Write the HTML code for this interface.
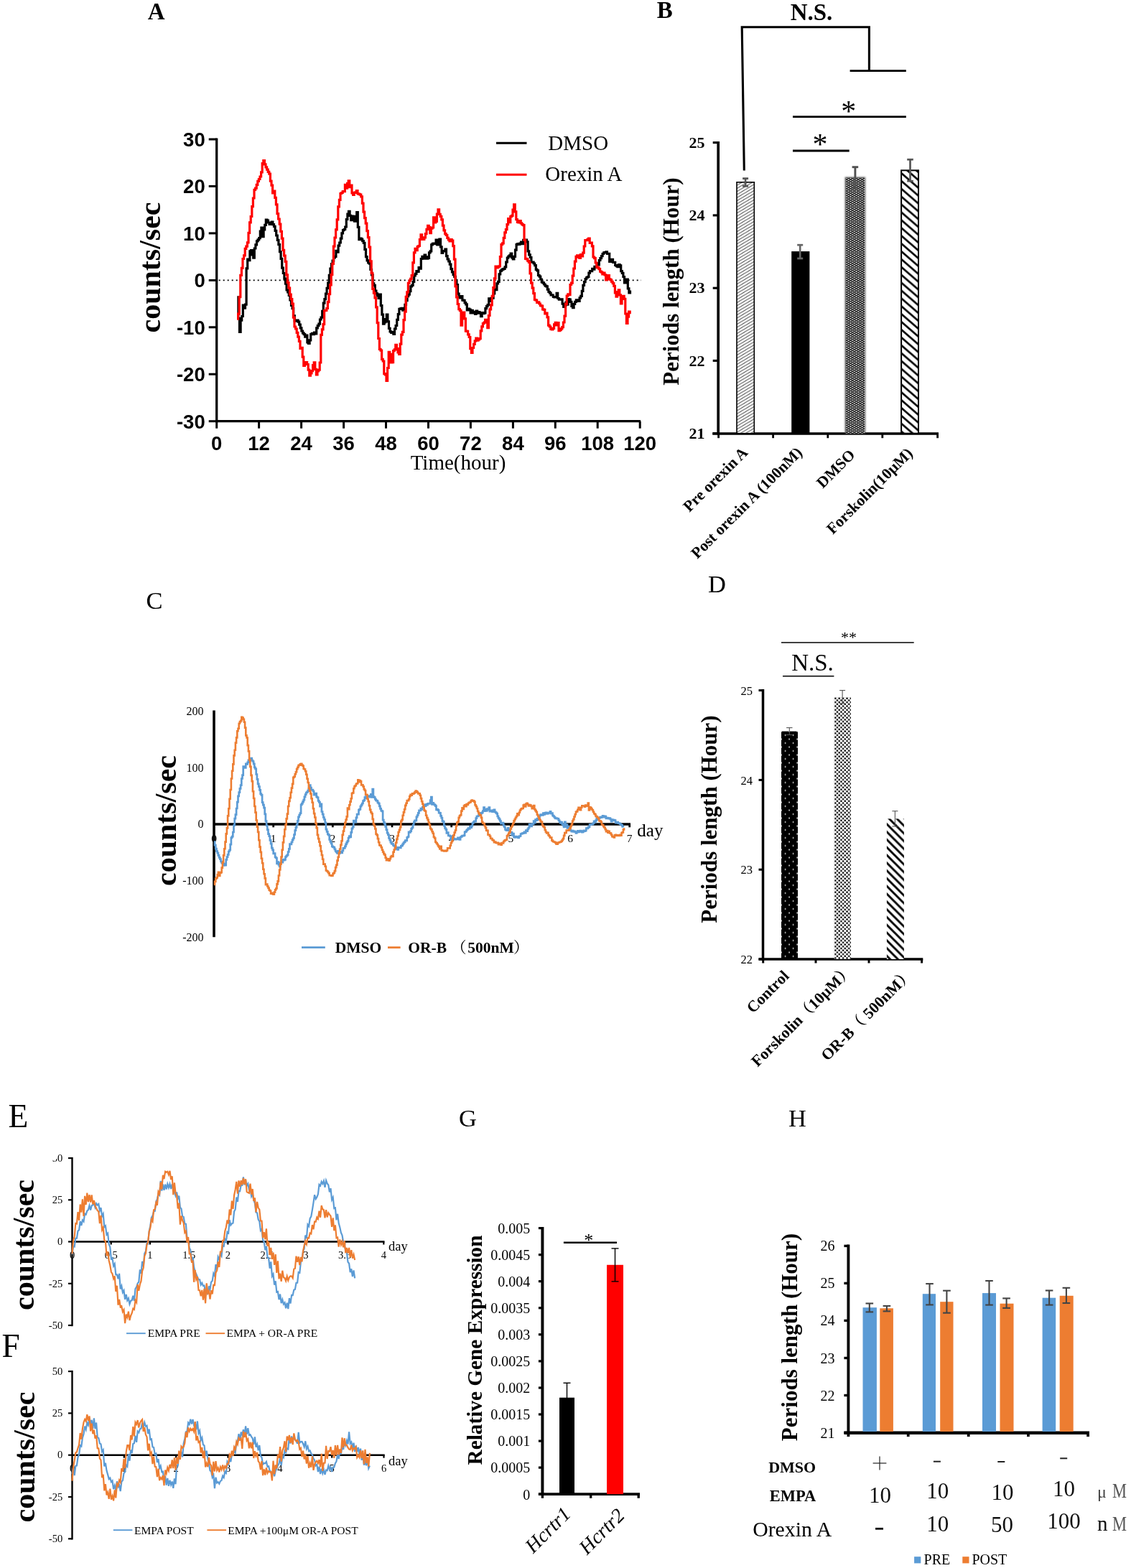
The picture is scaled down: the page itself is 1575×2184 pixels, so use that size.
<!DOCTYPE html>
<html lang="en">
<head>
<meta charset="utf-8">
<title>Figure</title>
<style>
html,body{margin:0;padding:0;background:#fff;}
body{width:1575px;height:2184px;overflow:hidden;}
svg{display:block;}
text{white-space:pre;}
</style>
</head>
<body>
<svg width="1575" height="2184" viewBox="0 0 1575 2184">
<defs>

<pattern id="hatchLight" patternUnits="userSpaceOnUse" width="7.2" height="4.3" x="1026" y="254">
<rect width="7.2" height="4.3" fill="#fff"/>
<path d="M-7.2 8.6 L14.4 -4.3 M-7.2 4.3 L7.2 -4.3 M0 8.6 L14.4 0" stroke="#5a5a5a" stroke-width="1.1"/>
</pattern>
<pattern id="dotsDark" patternUnits="userSpaceOnUse" width="5.4" height="3.2" x="1177.7" y="247.6">
<rect width="5.4" height="3.2" fill="#1c1c1c"/>
<rect x="0.5" y="0.1" width="1.7" height="1.5" fill="#fff"/>
<rect x="3.2" y="1.7" width="1.7" height="1.5" fill="#fff"/>
</pattern>
<pattern id="hatchWide" patternUnits="userSpaceOnUse" width="12.6" height="10.9" x="1255" y="241">
<rect width="12.6" height="10.9" fill="#fff"/>
<path d="M-12.6 -10.9 L25.2 21.8 M-12.6 0 L12.6 21.8 M0 -10.9 L25.2 10.9" stroke="#000" stroke-width="2.7"/>
</pattern>
<pattern id="dotsWhiteOnBlack" patternUnits="userSpaceOnUse" width="11" height="11" x="1088" y="1018.6">
<rect width="11" height="11" fill="#000"/>
<rect x="4.8" y="4.6" width="1.6" height="1.6" fill="#fff"/>
<rect x="-0.7" y="10.1" width="1.6" height="1.6" fill="#fff"/>
<rect x="10.3" y="10.1" width="1.6" height="1.6" fill="#fff"/>
<rect x="-0.7" y="-0.9" width="1.6" height="1.6" fill="#fff"/>
<rect x="10.3" y="-0.9" width="1.6" height="1.6" fill="#fff"/>
</pattern>
<pattern id="dotsBlackOnWhite" patternUnits="userSpaceOnUse" width="5.4" height="5.4" x="1161.8" y="971.2">
<rect width="5.4" height="5.4" fill="#fff"/>
<circle cx="1.5" cy="1.5" r="1.32" fill="#000"/>
<circle cx="4.2" cy="4.2" r="1.32" fill="#000"/>
</pattern>
<pattern id="hatchThick" patternUnits="userSpaceOnUse" width="10.8" height="10.8" x="1234.9" y="1137">
<rect width="10.8" height="10.8" fill="#fff"/>
<path d="M-10.8 -10.8 L21.6 21.6 M-10.8 0 L10.8 21.6 M0 -10.8 L21.6 10.8" stroke="#000" stroke-width="2.9"/>
</pattern>
<filter id="soft" x="-30%" y="-5%" width="160%" height="110%"><feGaussianBlur stdDeviation="1.3"/></filter>

</defs>
<rect x="0" y="0" width="1575" height="2184" fill="#fff"/>
<g id="panel_a">
<text x="205.8" y="26.8" font-family="'Liberation Serif', 'Noto Serif CJK SC', serif" font-size="33" font-weight="bold" font-style="normal" text-anchor="start" fill="#000" >A</text>
<line x1="301.7" y1="192.4" x2="301.7" y2="588.3" stroke="#000" stroke-width="3.3" />
<line x1="300.1" y1="586.7" x2="892.0" y2="586.7" stroke="#000" stroke-width="3.3" />
<line x1="290.7" y1="194.0" x2="301.7" y2="194.0" stroke="#000" stroke-width="3" />
<text x="285.7" y="203.8" font-family="'Liberation Sans', 'Noto Sans CJK SC', sans-serif" font-size="27.5" font-weight="bold" font-style="normal" text-anchor="end" fill="#000" >30</text>
<line x1="290.7" y1="259.4" x2="301.7" y2="259.4" stroke="#000" stroke-width="3" />
<text x="285.7" y="269.2" font-family="'Liberation Sans', 'Noto Sans CJK SC', sans-serif" font-size="27.5" font-weight="bold" font-style="normal" text-anchor="end" fill="#000" >20</text>
<line x1="290.7" y1="324.9" x2="301.7" y2="324.9" stroke="#000" stroke-width="3" />
<text x="285.7" y="334.7" font-family="'Liberation Sans', 'Noto Sans CJK SC', sans-serif" font-size="27.5" font-weight="bold" font-style="normal" text-anchor="end" fill="#000" >10</text>
<line x1="290.7" y1="390.4" x2="301.7" y2="390.4" stroke="#000" stroke-width="3" />
<text x="285.7" y="400.2" font-family="'Liberation Sans', 'Noto Sans CJK SC', sans-serif" font-size="27.5" font-weight="bold" font-style="normal" text-anchor="end" fill="#000" >0</text>
<line x1="290.7" y1="455.8" x2="301.7" y2="455.8" stroke="#000" stroke-width="3" />
<text x="285.7" y="465.6" font-family="'Liberation Sans', 'Noto Sans CJK SC', sans-serif" font-size="27.5" font-weight="bold" font-style="normal" text-anchor="end" fill="#000" >-10</text>
<line x1="290.7" y1="521.2" x2="301.7" y2="521.2" stroke="#000" stroke-width="3" />
<text x="285.7" y="531.0" font-family="'Liberation Sans', 'Noto Sans CJK SC', sans-serif" font-size="27.5" font-weight="bold" font-style="normal" text-anchor="end" fill="#000" >-20</text>
<line x1="290.7" y1="586.7" x2="301.7" y2="586.7" stroke="#000" stroke-width="3" />
<text x="285.7" y="596.5" font-family="'Liberation Sans', 'Noto Sans CJK SC', sans-serif" font-size="27.5" font-weight="bold" font-style="normal" text-anchor="end" fill="#000" >-30</text>
<line x1="301.7" y1="586.7" x2="301.7" y2="596.7" stroke="#000" stroke-width="3" />
<text x="301.7" y="626.7" font-family="'Liberation Sans', 'Noto Sans CJK SC', sans-serif" font-size="27.5" font-weight="bold" font-style="normal" text-anchor="middle" fill="#000" >0</text>
<line x1="360.6" y1="586.7" x2="360.6" y2="596.7" stroke="#000" stroke-width="3" />
<text x="360.6" y="626.7" font-family="'Liberation Sans', 'Noto Sans CJK SC', sans-serif" font-size="27.5" font-weight="bold" font-style="normal" text-anchor="middle" fill="#000" >12</text>
<line x1="419.6" y1="586.7" x2="419.6" y2="596.7" stroke="#000" stroke-width="3" />
<text x="419.6" y="626.7" font-family="'Liberation Sans', 'Noto Sans CJK SC', sans-serif" font-size="27.5" font-weight="bold" font-style="normal" text-anchor="middle" fill="#000" >24</text>
<line x1="478.6" y1="586.7" x2="478.6" y2="596.7" stroke="#000" stroke-width="3" />
<text x="478.6" y="626.7" font-family="'Liberation Sans', 'Noto Sans CJK SC', sans-serif" font-size="27.5" font-weight="bold" font-style="normal" text-anchor="middle" fill="#000" >36</text>
<line x1="537.5" y1="586.7" x2="537.5" y2="596.7" stroke="#000" stroke-width="3" />
<text x="537.5" y="626.7" font-family="'Liberation Sans', 'Noto Sans CJK SC', sans-serif" font-size="27.5" font-weight="bold" font-style="normal" text-anchor="middle" fill="#000" >48</text>
<line x1="596.5" y1="586.7" x2="596.5" y2="596.7" stroke="#000" stroke-width="3" />
<text x="596.5" y="626.7" font-family="'Liberation Sans', 'Noto Sans CJK SC', sans-serif" font-size="27.5" font-weight="bold" font-style="normal" text-anchor="middle" fill="#000" >60</text>
<line x1="655.4" y1="586.7" x2="655.4" y2="596.7" stroke="#000" stroke-width="3" />
<text x="655.4" y="626.7" font-family="'Liberation Sans', 'Noto Sans CJK SC', sans-serif" font-size="27.5" font-weight="bold" font-style="normal" text-anchor="middle" fill="#000" >72</text>
<line x1="714.4" y1="586.7" x2="714.4" y2="596.7" stroke="#000" stroke-width="3" />
<text x="714.4" y="626.7" font-family="'Liberation Sans', 'Noto Sans CJK SC', sans-serif" font-size="27.5" font-weight="bold" font-style="normal" text-anchor="middle" fill="#000" >84</text>
<line x1="773.3" y1="586.7" x2="773.3" y2="596.7" stroke="#000" stroke-width="3" />
<text x="773.3" y="626.7" font-family="'Liberation Sans', 'Noto Sans CJK SC', sans-serif" font-size="27.5" font-weight="bold" font-style="normal" text-anchor="middle" fill="#000" >96</text>
<line x1="832.2" y1="586.7" x2="832.2" y2="596.7" stroke="#000" stroke-width="3" />
<text x="832.2" y="626.7" font-family="'Liberation Sans', 'Noto Sans CJK SC', sans-serif" font-size="27.5" font-weight="bold" font-style="normal" text-anchor="middle" fill="#000" >108</text>
<line x1="891.2" y1="586.7" x2="891.2" y2="596.7" stroke="#000" stroke-width="3" />
<text x="891.2" y="626.7" font-family="'Liberation Sans', 'Noto Sans CJK SC', sans-serif" font-size="27.5" font-weight="bold" font-style="normal" text-anchor="middle" fill="#000" >120</text>
<line x1="304.7" y1="390.3" x2="893.0" y2="390.3" stroke="#000" stroke-width="1.8" stroke-dasharray="2 4"/>
<text x="0.0" y="0.0" font-family="'Liberation Serif', 'Noto Serif CJK SC', serif" font-size="42" font-weight="bold" font-style="normal" text-anchor="middle" fill="#000" transform="translate(223.3 372.5) rotate(-90)" >counts/sec</text>
<text x="638.0" y="654.0" font-family="'Liberation Serif', 'Noto Serif CJK SC', serif" font-size="29" font-weight="normal" font-style="normal" text-anchor="middle" fill="#000" >Time(hour)</text>
<line x1="691.0" y1="199.3" x2="733.5" y2="199.3" stroke="#000" stroke-width="3" />
<line x1="691.0" y1="243.3" x2="733.5" y2="243.3" stroke="#f00" stroke-width="3" />
<text x="763.3" y="209.3" font-family="'Liberation Serif', 'Noto Serif CJK SC', serif" font-size="29" font-weight="normal" font-style="normal" text-anchor="start" fill="#000" >DMSO</text>
<text x="759.3" y="251.7" font-family="'Liberation Serif', 'Noto Serif CJK SC', serif" font-size="29" font-weight="normal" font-style="normal" text-anchor="start" fill="#000" >Orexin A</text>
<path d="M330.3 413.9 331.9 413.9 331.9 443.4 333.5 443.4 333.5 462.5 335.1 462.5 335.1 446.2 336.7 446.2 336.7 440.5 338.3 440.5 338.3 425.1 339.9 425.1 339.9 429.2 341.5 429.2 341.5 424.1 343.1 424.1 343.1 373.8 344.7 373.8 344.7 361 346.3 361 346.3 362.6 347.9 362.6 347.9 349.8 349.5 349.8 349.5 348.7 351.1 348.7 351.1 354.8 352.7 354.8 352.7 359.1 354.3 359.1 354.3 346 355.9 346 355.9 340.8 357.5 340.8 357.5 335.8 359.1 335.8 359.1 333.9 360.7 333.9 360.7 331.6 362.3 331.6 362.3 322.2 363.9 322.2 363.9 317.1 365.5 317.1 365.5 329.7 367.1 329.7 367.1 320 368.7 320 368.7 313.3 370.3 313.3 370.3 306.1 371.9 306.1 371.9 307.2 373.5 307.2 373.5 310 375.1 310 375.1 312.3 376.7 312.3 376.7 312.1 378.3 312.1 378.3 309 379.9 309 379.9 312.6 381.5 312.6 381.5 315.4 383.1 315.4 383.1 321.4 384.7 321.4 384.7 328 386.3 328 386.3 334.4 387.9 334.4 387.9 340.7 389.5 340.7 389.5 350.7 391.1 350.7 391.1 360.3 392.7 360.3 392.7 373.2 394.3 373.2 394.3 380.5 395.9 380.5 395.9 388.1 397.5 388.1 397.5 395.2 399.1 395.2 399.1 403.9 400.7 403.9 400.7 407 402.3 407 402.3 411.3 403.9 411.3 403.9 417.8 405.5 417.8 405.5 425.3 407.1 425.3 407.1 429.6 408.7 429.6 408.7 439.9 410.3 439.9 410.3 447.2 411.9 447.2 411.9 446.8 413.5 446.8 413.5 446.2 415.1 446.2 415.1 448.2 416.7 448.2 416.7 452.1 418.3 452.1 418.3 456.9 419.9 456.9 419.9 461 421.5 461 421.5 463.9 423.1 463.9 423.1 465.6 424.7 465.6 424.7 469.1 426.3 469.1 426.3 467.1 427.9 467.1 427.9 476.9 429.5 476.9 429.5 478.3 431.1 478.3 431.1 473.9 432.7 473.9 432.7 465.7 434.3 465.7 434.3 464.4 435.9 464.4 435.9 465.6 437.5 465.6 437.5 463 439.1 463 439.1 464.9 440.7 464.9 440.7 456.8 442.3 456.8 442.3 453.6 443.9 453.6 443.9 451.1 445.5 451.1 445.5 445 447.1 445 447.1 442.2 448.7 442.2 448.7 433.4 450.3 433.4 450.3 422.2 451.9 422.2 451.9 416.6 453.5 416.6 453.5 409.2 455.1 409.2 455.1 401.3 456.7 401.3 456.7 394 458.3 394 458.3 383.3 459.9 383.3 459.9 374 461.5 374 461.5 367.7 463.1 367.7 463.1 363.2 464.7 363.2 464.7 358.9 466.3 358.9 466.3 357.3 467.9 357.3 467.9 349.4 469.5 349.4 469.5 351.2 471.1 351.2 471.1 342.1 472.7 342.1 472.7 338 474.3 338 474.3 332.1 475.9 332.1 475.9 324.9 477.5 324.9 477.5 320.7 479.1 320.7 479.1 319.5 480.7 319.5 480.7 316 482.3 316 482.3 305.5 483.9 305.5 483.9 298.1 485.5 298.1 485.5 294.3 487.1 294.3 487.1 300.4 488.7 300.4 488.7 306.6 490.3 306.6 490.3 301 491.9 301 491.9 301.4 493.5 301.4 493.5 308.2 495.1 308.2 495.1 305.9 496.7 305.9 496.7 295.5 498.3 295.5 498.3 316.3 499.9 316.3 499.9 333.7 501.5 333.7 501.5 332 503.1 332 503.1 333 504.7 333 504.7 335.6 506.3 335.6 506.3 338.4 507.9 338.4 507.9 347.4 509.5 347.4 509.5 357.7 511.1 357.7 511.1 362.8 512.7 362.8 512.7 365.8 514.3 365.8 514.3 367.1 515.9 367.1 515.9 375.5 517.5 375.5 517.5 382.9 519.1 382.9 519.1 394.8 520.7 394.8 520.7 397.4 522.3 397.4 522.3 405 523.9 405 523.9 408.9 525.5 408.9 525.5 411.8 527.1 411.8 527.1 415.5 528.7 415.5 528.7 410.2 530.3 410.2 530.3 425.7 531.9 425.7 531.9 438.1 533.5 438.1 533.5 451.1 535.1 451.1 535.1 449 536.7 449 536.7 444.6 538.3 444.6 538.3 438.1 539.9 438.1 539.9 447.9 541.5 447.9 541.5 457.4 543.1 457.4 543.1 461.9 544.7 461.9 544.7 463.4 546.3 463.4 546.3 462.6 547.9 462.6 547.9 465.4 549.5 465.4 549.5 458 551.1 458 551.1 453.5 552.7 453.5 552.7 445.3 554.3 445.3 554.3 437.7 555.9 437.7 555.9 430.4 557.5 430.4 557.5 429.9 559.1 429.9 559.1 429.3 560.7 429.3 560.7 432.2 562.3 432.2 562.3 430.9 563.9 430.9 563.9 424.4 565.5 424.4 565.5 418.7 567.1 418.7 567.1 412.7 568.7 412.7 568.7 410.2 570.3 410.2 570.3 405.6 571.9 405.6 571.9 398.9 573.5 398.9 573.5 397.3 575.1 397.3 575.1 392.5 576.7 392.5 576.7 383.9 578.3 383.9 578.3 381.4 579.9 381.4 579.9 377.7 581.5 377.7 581.5 378.3 583.1 378.3 583.1 372.5 584.7 372.5 584.7 374.1 586.3 374.1 586.3 360.5 587.9 360.5 587.9 357.3 589.5 357.3 589.5 360.1 591.1 360.1 591.1 355.1 592.7 355.1 592.7 357.8 594.3 357.8 594.3 360.1 595.9 360.1 595.9 359.3 597.5 359.3 597.5 351.8 599.1 351.8 599.1 349.8 600.7 349.8 600.7 340.9 602.3 340.9 602.3 339.4 603.9 339.4 603.9 339 605.5 339 605.5 339.7 607.1 339.7 607.1 334.2 608.7 334.2 608.7 340.8 610.3 340.8 610.3 334 611.9 334 611.9 333.1 613.5 333.1 613.5 343.9 615.1 343.9 615.1 352.5 616.7 352.5 616.7 349.5 618.3 349.5 618.3 349.9 619.9 349.9 619.9 347.2 621.5 347.2 621.5 356.6 623.1 356.6 623.1 361 624.7 361 624.7 364 626.3 364 626.3 368.1 627.9 368.1 627.9 374.6 629.5 374.6 629.5 378.9 631.1 378.9 631.1 382.7 632.7 382.7 632.7 385.4 634.3 385.4 634.3 390.3 635.9 390.3 635.9 396.6 637.5 396.6 637.5 409.1 639.1 409.1 639.1 414 640.7 414 640.7 415 642.3 415 642.3 412.6 643.9 412.6 643.9 418.1 645.5 418.1 645.5 418.3 647.1 418.3 647.1 421.6 648.7 421.6 648.7 423.9 650.3 423.9 650.3 432 651.9 432 651.9 430 653.5 430 653.5 431 655.1 431 655.1 435.8 656.7 435.8 656.7 432.4 658.3 432.4 658.3 435.9 659.9 435.9 659.9 434.3 661.5 434.3 661.5 437.4 663.1 437.4 663.1 433 664.7 433 664.7 436.2 666.3 436.2 666.3 434.5 667.9 434.5 667.9 436 669.5 436 669.5 440.6 671.1 440.6 671.1 435.7 672.7 435.7 672.7 436.7 674.3 436.7 674.3 435.8 675.9 435.8 675.9 429.7 677.5 429.7 677.5 426.7 679.1 426.7 679.1 424.5 680.7 424.5 680.7 415.8 682.3 415.8 682.3 419.5 683.9 419.5 683.9 415.3 685.5 415.3 685.5 415.2 687.1 415.2 687.1 408.9 688.7 408.9 688.7 402.8 690.3 402.8 690.3 403.7 691.9 403.7 691.9 394.8 693.5 394.8 693.5 392.4 695.1 392.4 695.1 381.8 696.7 381.8 696.7 377.4 698.3 377.4 698.3 375.9 699.9 375.9 699.9 374.8 701.5 374.8 701.5 374.3 703.1 374.3 703.1 371.9 704.7 371.9 704.7 365 706.3 365 706.3 359.2 707.9 359.2 707.9 357.1 709.5 357.1 709.5 355.9 711.1 355.9 711.1 353.2 712.7 353.2 712.7 358.8 714.3 358.8 714.3 361 715.9 361 715.9 357.3 717.5 357.3 717.5 348.1 719.1 348.1 719.1 340.6 720.7 340.6 720.7 339.7 722.3 339.7 722.3 340.3 723.9 340.3 723.9 339 725.5 339 725.5 337 727.1 337 727.1 339.6 728.7 339.6 728.7 334.4 730.3 334.4 730.3 335.7 731.9 335.7 731.9 334.1 733.5 334.1 733.5 336.9 735.1 336.9 735.1 349.9 736.7 349.9 736.7 354.9 738.3 354.9 738.3 358.5 739.9 358.5 739.9 365 741.5 365 741.5 365.1 743.1 365.1 743.1 367 744.7 367 744.7 369.6 746.3 369.6 746.3 375.3 747.9 375.3 747.9 376.8 749.5 376.8 749.5 383.5 751.1 383.5 751.1 385.1 752.7 385.1 752.7 389 754.3 389 754.3 393 755.9 393 755.9 393.9 757.5 393.9 757.5 396 759.1 396 759.1 398.1 760.7 398.1 760.7 398.8 762.3 398.8 762.3 403.2 763.9 403.2 763.9 406.5 765.5 406.5 765.5 408.1 767.1 408.1 767.1 410.9 768.7 410.9 768.7 411 770.3 411 770.3 413.5 771.9 413.5 771.9 414 773.5 414 773.5 413.7 775.1 413.7 775.1 408.4 776.7 408.4 776.7 415.5 778.3 415.5 778.3 417.2 779.9 417.2 779.9 416.9 781.5 416.9 781.5 416.9 783.1 416.9 783.1 423.1 784.7 423.1 784.7 427.5 786.3 427.5 786.3 425.3 787.9 425.3 787.9 421 789.5 421 789.5 424.2 791.1 424.2 791.1 416.6 792.7 416.6 792.7 417.2 794.3 417.2 794.3 420.4 795.9 420.4 795.9 426.3 797.5 426.3 797.5 428.7 799.1 428.7 799.1 423.3 800.7 423.3 800.7 420.4 802.3 420.4 802.3 417.9 803.9 417.9 803.9 418.9 805.5 418.9 805.5 419.4 807.1 419.4 807.1 414.9 808.7 414.9 808.7 412.4 810.3 412.4 810.3 405.3 811.9 405.3 811.9 397.4 813.5 397.4 813.5 392.7 815.1 392.7 815.1 388.5 816.7 388.5 816.7 386.5 818.3 386.5 818.3 385.6 819.9 385.6 819.9 380.2 821.5 380.2 821.5 377.5 823.1 377.5 823.1 377.7 824.7 377.7 824.7 374.4 826.3 374.4 826.3 375.2 827.9 375.2 827.9 371.3 829.5 371.3 829.5 372.4 831.1 372.4 831.1 366.8 832.7 366.8 832.7 368.8 834.3 368.8 834.3 362.5 835.9 362.5 835.9 359.7 837.5 359.7 837.5 356.6 839.1 356.6 839.1 353.5 840.7 353.5 840.7 351.9 842.3 351.9 842.3 351.7 843.9 351.7 843.9 350.9 845.5 350.9 845.5 353.4 847.1 353.4 847.1 353.3 848.7 353.3 848.7 364.5 850.3 364.5 850.3 362 851.9 362 851.9 361.4 853.5 361.4 853.5 365.3 855.1 365.3 855.1 365.4 856.7 365.4 856.7 369.5 858.3 369.5 858.3 370.6 859.9 370.6 859.9 371.6 861.5 371.6 861.5 368.6 863.1 368.6 863.1 369.9 864.7 369.9 864.7 377.6 866.3 377.6 866.3 380.4 867.9 380.4 867.9 385.5 869.5 385.5 869.5 393.9 871.1 393.9 871.1 391 872.7 391 872.7 389.1 874.3 389.1 874.3 401.8 875.9 401.8 875.9 407.9 877.5 407.9 877.5 404.5" fill="none" stroke="#000" stroke-width="3.2" stroke-linejoin="miter" stroke-linecap="butt" />
<path d="M330 444.1 331.6 444.1 331.6 437.2 333.2 437.2 333.2 413.7 334.8 413.7 334.8 383.4 336.4 383.4 336.4 373.3 338 373.3 338 360.5 339.6 360.5 339.6 355.8 341.2 355.8 341.2 346.4 342.8 346.4 342.8 343.2 344.4 343.2 344.4 337.8 346 337.8 346 324.3 347.6 324.3 347.6 309.9 349.2 309.9 349.2 301.5 350.8 301.5 350.8 287.6 352.4 287.6 352.4 276 354 276 354 264.3 355.6 264.3 355.6 262.1 357.2 262.1 357.2 257.3 358.8 257.3 358.8 252.3 360.4 252.3 360.4 249.5 362 249.5 362 246 363.6 246 363.6 239.9 365.2 239.9 365.2 227.7 366.8 227.7 366.8 223.7 368.4 223.7 368.4 228.8 370 228.8 370 232.9 371.6 232.9 371.6 236.2 373.2 236.2 373.2 239.3 374.8 239.3 374.8 242.2 376.4 242.2 376.4 252.1 378 252.1 378 258.2 379.6 258.2 379.6 268.9 381.2 268.9 381.2 266.1 382.8 266.1 382.8 275.3 384.4 275.3 384.4 284.8 386 284.8 386 297.6 387.6 297.6 387.6 305 389.2 305 389.2 312.2 390.8 312.2 390.8 322.3 392.4 322.3 392.4 332.1 394 332.1 394 348.3 395.6 348.3 395.6 356.1 397.2 356.1 397.2 364.4 398.8 364.4 398.8 382.9 400.4 382.9 400.4 393.6 402 393.6 402 401 403.6 401 403.6 410.1 405.2 410.1 405.2 416.6 406.8 416.6 406.8 423.1 408.4 423.1 408.4 442.2 410 442.2 410 455 411.6 455 411.6 458 413.2 458 413.2 463.4 414.8 463.4 414.8 469.2 416.4 469.2 416.4 475.4 418 475.4 418 485.5 419.6 485.5 419.6 484.3 421.2 484.3 421.2 497.1 422.8 497.1 422.8 509.4 424.4 509.4 424.4 507 426 507 426 504.6 427.6 504.6 427.6 507.5 429.2 507.5 429.2 515.1 430.8 515.1 430.8 523.1 432.4 523.1 432.4 520 434 520 434 516.6 435.6 516.6 435.6 508.5 437.2 508.5 437.2 504.8 438.8 504.8 438.8 514.4 440.4 514.4 440.4 521.8 442 521.8 442 517 443.6 517 443.6 515.2 445.2 515.2 445.2 505 446.8 505 446.8 466.4 448.4 466.4 448.4 458.8 450 458.8 450 451.6 451.6 451.6 451.6 432.6 453.2 432.6 453.2 432.4 454.8 432.4 454.8 429.5 456.4 429.5 456.4 420.6 458 420.6 458 409.6 459.6 409.6 459.6 396.8 461.2 396.8 461.2 382.7 462.8 382.7 462.8 367.5 464.4 367.5 464.4 343.2 466 343.2 466 331 467.6 331 467.6 319.9 469.2 319.9 469.2 305.9 470.8 305.9 470.8 287.9 472.4 287.9 472.4 278.3 474 278.3 474 269.5 475.6 269.5 475.6 268.5 477.2 268.5 477.2 266.5 478.8 266.5 478.8 266.6 480.4 266.6 480.4 257.4 482 257.4 482 262.2 483.6 262.2 483.6 255.4 485.2 255.4 485.2 251.9 486.8 251.9 486.8 260.7 488.4 260.7 488.4 258 490 258 490 268.8 491.6 268.8 491.6 271.4 493.2 271.4 493.2 268.3 494.8 268.3 494.8 267.8 496.4 267.8 496.4 265.6 498 265.6 498 269.9 499.6 269.9 499.6 270.3 501.2 270.3 501.2 271.2 502.8 271.2 502.8 273.9 504.4 273.9 504.4 283.1 506 283.1 506 295.2 507.6 295.2 507.6 303.7 509.2 303.7 509.2 311.1 510.8 311.1 510.8 321.6 512.4 321.6 512.4 330.6 514 330.6 514 344.1 515.6 344.1 515.6 363.8 517.2 363.8 517.2 380.4 518.8 380.4 518.8 402.3 520.4 402.3 520.4 408.2 522 408.2 522 414.9 523.6 414.9 523.6 427.8 525.2 427.8 525.2 449.6 526.8 449.6 526.8 471.5 528.4 471.5 528.4 486.3 530 486.3 530 488.2 531.6 488.2 531.6 500.4 533.2 500.4 533.2 503 534.8 503 534.8 520.7 536.4 520.7 536.4 521.9 538 521.9 538 530.3 539.6 530.3 539.6 512.5 541.2 512.5 541.2 490.4 542.8 490.4 542.8 493.4 544.4 493.4 544.4 504.9 546 504.9 546 504.7 547.6 504.7 547.6 488.6 549.2 488.6 549.2 486.8 550.8 486.8 550.8 480.4 552.4 480.4 552.4 485.5 554 485.5 554 490.9 555.6 490.9 555.6 493.4 557.2 493.4 557.2 479.2 558.8 479.2 558.8 466.1 560.4 466.1 560.4 462.4 562 462.4 562 445.7 563.6 445.7 563.6 434.2 565.2 434.2 565.2 413.3 566.8 413.3 566.8 406.8 568.4 406.8 568.4 394.4 570 394.4 570 391 571.6 391 571.6 388.4 573.2 388.4 573.2 383.7 574.8 383.7 574.8 365.9 576.4 365.9 576.4 351.9 578 351.9 578 346.3 579.6 346.3 579.6 348.7 581.2 348.7 581.2 343.6 582.8 343.6 582.8 342.5 584.4 342.5 584.4 333.5 586 333.5 586 326.8 587.6 326.8 587.6 331.1 589.2 331.1 589.2 333.5 590.8 333.5 590.8 330.8 592.4 330.8 592.4 325.7 594 325.7 594 319.3 595.6 319.3 595.6 314.4 597.2 314.4 597.2 316.7 598.8 316.7 598.8 324.7 600.4 324.7 600.4 318.2 602 318.2 602 317 603.6 317 603.6 302.8 605.2 302.8 605.2 310 606.8 310 606.8 308.3 608.4 308.3 608.4 298 610 298 610 291.8 611.6 291.8 611.6 298.3 613.2 298.3 613.2 301.3 614.8 301.3 614.8 305.9 616.4 305.9 616.4 314.2 618 314.2 618 320.9 619.6 320.9 619.6 325.6 621.2 325.6 621.2 327.5 622.8 327.5 622.8 331.3 624.4 331.3 624.4 333.9 626 333.9 626 335.9 627.6 335.9 627.6 333.5 629.2 333.5 629.2 335.1 630.8 335.1 630.8 342.6 632.4 342.6 632.4 361.2 634 361.2 634 398.8 635.6 398.8 635.6 414 637.2 414 637.2 423.5 638.8 423.5 638.8 430.7 640.4 430.7 640.4 432.7 642 432.7 642 453.1 643.6 453.1 643.6 435.9 645.2 435.9 645.2 435 646.8 435 646.8 443.8 648.4 443.8 648.4 461.1 650 461.1 650 461.4 651.6 461.4 651.6 465.8 653.2 465.8 653.2 469.5 654.8 469.5 654.8 485.7 656.4 485.7 656.4 491.4 658 491.4 658 484.5 659.6 484.5 659.6 479.3 661.2 479.3 661.2 474.8 662.8 474.8 662.8 471 664.4 471 664.4 474.2 666 474.2 666 472.9 667.6 472.9 667.6 471.6 669.2 471.6 669.2 460.9 670.8 460.9 670.8 454.8 672.4 454.8 672.4 450.7 674 450.7 674 449.1 675.6 449.1 675.6 445.3 677.2 445.3 677.2 445.7 678.8 445.7 678.8 456.7 680.4 456.7 680.4 439.5 682 439.5 682 430.8 683.6 430.8 683.6 424.8 685.2 424.8 685.2 412.3 686.8 412.3 686.8 400.7 688.4 400.7 688.4 387.8 690 387.8 690 371.1 691.6 371.1 691.6 372.9 693.2 372.9 693.2 371.8 694.8 371.8 694.8 370.9 696.4 370.9 696.4 357.5 698 357.5 698 340.7 699.6 340.7 699.6 338.8 701.2 338.8 701.2 331.3 702.8 331.3 702.8 323.9 704.4 323.9 704.4 319.6 706 319.6 706 312.6 707.6 312.6 707.6 304.5 709.2 304.5 709.2 309.7 710.8 309.7 710.8 301.6 712.4 301.6 712.4 300.4 714 300.4 714 292.1 715.6 292.1 715.6 284.8 717.2 284.8 717.2 294.9 718.8 294.9 718.8 305.7 720.4 305.7 720.4 309.3 722 309.3 722 309.8 723.6 309.8 723.6 307.5 725.2 307.5 725.2 310.8 726.8 310.8 726.8 312.7 728.4 312.7 728.4 313.6 730 313.6 730 334.5 731.6 334.5 731.6 360.4 733.2 360.4 733.2 360.9 734.8 360.9 734.8 363.4 736.4 363.4 736.4 365.3 738 365.3 738 380.8 739.6 380.8 739.6 394.1 741.2 394.1 741.2 401.2 742.8 401.2 742.8 408.6 744.4 408.6 744.4 417.5 746 417.5 746 418.1 747.6 418.1 747.6 421.3 749.2 421.3 749.2 420.8 750.8 420.8 750.8 423 752.4 423 752.4 425.7 754 425.7 754 426.1 755.6 426.1 755.6 430.8 757.2 430.8 757.2 431.3 758.8 431.3 758.8 436.9 760.4 436.9 760.4 436.2 762 436.2 762 441.9 763.6 441.9 763.6 453.2 765.2 453.2 765.2 455 766.8 455 766.8 458.3 768.4 458.3 768.4 458.8 770 458.8 770 457.4 771.6 457.4 771.6 451.8 773.2 451.8 773.2 449.3 774.8 449.3 774.8 452.8 776.4 452.8 776.4 449.5 778 449.5 778 460.6 779.6 460.6 779.6 459.7 781.2 459.7 781.2 457.8 782.8 457.8 782.8 455.6 784.4 455.6 784.4 449 786 449 786 440.2 787.6 440.2 787.6 423.3 789.2 423.3 789.2 412.1 790.8 412.1 790.8 409.8 792.4 409.8 792.4 410.6 794 410.6 794 396.5 795.6 396.5 795.6 394.1 797.2 394.1 797.2 384.2 798.8 384.2 798.8 374 800.4 374 800.4 364.1 802 364.1 802 357.4 803.6 357.4 803.6 355.9 805.2 355.9 805.2 358.2 806.8 358.2 806.8 359.5 808.4 359.5 808.4 354.5 810 354.5 810 357 811.6 357 811.6 352.1 813.2 352.1 813.2 343 814.8 343 814.8 334.7 816.4 334.7 816.4 334.6 818 334.6 818 333.3 819.6 333.3 819.6 332 821.2 332 821.2 338.4 822.8 338.4 822.8 338.1 824.4 338.1 824.4 342.9 826 342.9 826 358 827.6 358 827.6 359.7 829.2 359.7 829.2 366 830.8 366 830.8 371.9 832.4 371.9 832.4 372.9 834 372.9 834 374.7 835.6 374.7 835.6 378.1 837.2 378.1 837.2 379.2 838.8 379.2 838.8 382 840.4 382 840.4 380 842 380 842 382.9 843.6 382.9 843.6 390 845.2 390 845.2 385.9 846.8 385.9 846.8 383.5 848.4 383.5 848.4 388.8 850 388.8 850 389.8 851.6 389.8 851.6 392.3 853.2 392.3 853.2 394.6 854.8 394.6 854.8 398.3 856.4 398.3 856.4 408 858 408 858 413.2 859.6 413.2 859.6 406.5 861.2 406.5 861.2 403.8 862.8 403.8 862.8 410.9 864.4 410.9 864.4 422.8 866 422.8 866 414.7 867.6 414.7 867.6 412.4 869.2 412.4 869.2 416.3 870.8 416.3 870.8 437 872.4 437 872.4 450.4 874 450.4 874 441.2 875.6 441.2 875.6 434.2 877.2 434.2 877.2 437.2" fill="none" stroke="#f00" stroke-width="3.2" stroke-linejoin="miter" stroke-linecap="butt" />
</g>
<g id="panel_b">
<text x="914.7" y="24.9" font-family="'Liberation Serif', 'Noto Serif CJK SC', serif" font-size="33" font-weight="bold" font-style="normal" text-anchor="start" fill="#000" >B</text>
<text x="1130.0" y="28.0" font-family="'Liberation Serif', 'Noto Serif CJK SC', serif" font-size="33" font-weight="bold" font-style="normal" text-anchor="middle" fill="#000" >N.S.</text>
<path d="M1036.3 237.6 L1033.2 37.7 L1210.4 37.7 L1210.4 98.6" fill="none" stroke="#000" stroke-width="3.1" stroke-linejoin="miter"/>
<line x1="1183.6" y1="98.6" x2="1261.8" y2="98.6" stroke="#000" stroke-width="2.8" />
<line x1="1104.0" y1="162.6" x2="1261.8" y2="162.6" stroke="#000" stroke-width="2.8" />
<line x1="1104.0" y1="210.0" x2="1182.7" y2="210.0" stroke="#000" stroke-width="2.8" />
<text x="1181.7" y="169.3" font-family="'Liberation Serif', 'Noto Serif CJK SC', serif" font-size="42" font-weight="normal" font-style="normal" text-anchor="middle" fill="#000" >*</text>
<text x="1142.1" y="214.5" font-family="'Liberation Serif', 'Noto Serif CJK SC', serif" font-size="42" font-weight="normal" font-style="normal" text-anchor="middle" fill="#000" >*</text>
<line x1="1000.2" y1="197.0" x2="1000.2" y2="605.6" stroke="#000" stroke-width="3.7" />
<line x1="992.2" y1="604.0" x2="1307.0" y2="604.0" stroke="#000" stroke-width="3.4" />
<line x1="992.7" y1="603.7" x2="1000.2" y2="603.7" stroke="#000" stroke-width="3.1" />
<text x="981.4" y="610.8" font-family="'Liberation Serif', 'Noto Serif CJK SC', serif" font-size="22" font-weight="bold" font-style="normal" text-anchor="end" fill="#000" >21</text>
<line x1="992.7" y1="502.4" x2="1000.2" y2="502.4" stroke="#000" stroke-width="3.1" />
<text x="981.4" y="509.5" font-family="'Liberation Serif', 'Noto Serif CJK SC', serif" font-size="22" font-weight="bold" font-style="normal" text-anchor="end" fill="#000" >22</text>
<line x1="992.7" y1="401.2" x2="1000.2" y2="401.2" stroke="#000" stroke-width="3.1" />
<text x="981.4" y="408.3" font-family="'Liberation Serif', 'Noto Serif CJK SC', serif" font-size="22" font-weight="bold" font-style="normal" text-anchor="end" fill="#000" >23</text>
<line x1="992.7" y1="299.9" x2="1000.2" y2="299.9" stroke="#000" stroke-width="3.1" />
<text x="981.4" y="307.0" font-family="'Liberation Serif', 'Noto Serif CJK SC', serif" font-size="22" font-weight="bold" font-style="normal" text-anchor="end" fill="#000" >24</text>
<line x1="992.7" y1="198.6" x2="1000.2" y2="198.6" stroke="#000" stroke-width="3.1" />
<text x="981.4" y="205.7" font-family="'Liberation Serif', 'Noto Serif CJK SC', serif" font-size="22" font-weight="bold" font-style="normal" text-anchor="end" fill="#000" >25</text>
<line x1="1000.6" y1="603.7" x2="1000.6" y2="610.2" stroke="#000" stroke-width="2.8" />
<line x1="1076.6" y1="603.7" x2="1076.6" y2="610.2" stroke="#000" stroke-width="2.8" />
<line x1="1152.8" y1="603.7" x2="1152.8" y2="610.2" stroke="#000" stroke-width="2.8" />
<line x1="1228.8" y1="603.7" x2="1228.8" y2="610.2" stroke="#000" stroke-width="2.8" />
<line x1="1305.6" y1="603.7" x2="1305.6" y2="610.2" stroke="#000" stroke-width="2.8" />
<text x="0.0" y="0.0" font-family="'Liberation Serif', 'Noto Serif CJK SC', serif" font-size="31" font-weight="bold" font-style="normal" text-anchor="middle" fill="#000" transform="translate(945.0 392.0) rotate(-90)" >Periods length (Hour)</text>
<rect x="1026.0" y="253.8" width="24.3" height="349.9" fill="url(#hatchLight)" stroke="#000" stroke-width="1.6" />
<rect x="1102.2" y="350.1" width="25.2" height="253.6" fill="#000" stroke="none" stroke-width="0" />
<rect x="1176.6" y="246.6" width="28.6" height="357.1" fill="#666" stroke="none" stroke-width="0" filter="url(#soft)"/>
<rect x="1177.7" y="247.3" width="26.3" height="356.4" fill="url(#dotsDark)" stroke="none" stroke-width="0" />
<rect x="1255.1" y="237.3" width="23.9" height="366.4" fill="url(#hatchWide)" stroke="#000" stroke-width="2" />
<line x1="1038.1" y1="248.6" x2="1038.1" y2="259.3" stroke="#555" stroke-width="2.7" /><line x1="1034.1" y1="248.6" x2="1042.1" y2="248.6" stroke="#555" stroke-width="2.7" /><line x1="1034.1" y1="259.3" x2="1042.1" y2="259.3" stroke="#555" stroke-width="2.7" />
<line x1="1114.2" y1="341.2" x2="1114.2" y2="360.0" stroke="#666" stroke-width="2.7" /><line x1="1110.2" y1="341.2" x2="1118.2" y2="341.2" stroke="#666" stroke-width="2.7" /><line x1="1110.2" y1="360.0" x2="1118.2" y2="360.0" stroke="#666" stroke-width="2.7" />
<line x1="1190.9" y1="232.7" x2="1190.9" y2="261.5" stroke="#505050" stroke-width="2.9" /><line x1="1186.6" y1="232.7" x2="1195.2" y2="232.7" stroke="#505050" stroke-width="2.9" /><line x1="1186.6" y1="261.5" x2="1195.2" y2="261.5" stroke="#505050" stroke-width="2.9" />
<line x1="1267.5" y1="222.2" x2="1267.5" y2="252.2" stroke="#555" stroke-width="2.7" /><line x1="1263.2" y1="222.2" x2="1271.8" y2="222.2" stroke="#555" stroke-width="2.7" /><line x1="1263.2" y1="252.2" x2="1271.8" y2="252.2" stroke="#555" stroke-width="2.7" />
<text x="0.0" y="0.0" font-family="'Liberation Serif', 'Noto Serif CJK SC', serif" font-size="21.8" font-weight="bold" font-style="normal" text-anchor="end" fill="#000" transform="translate(1042.6 631.5) rotate(-45)" >Pre orexin A</text>
<text x="0.0" y="0.0" font-family="'Liberation Serif', 'Noto Serif CJK SC', serif" font-size="21.8" font-weight="bold" font-style="normal" text-anchor="end" fill="#000" transform="translate(1118.4 631.5) rotate(-45)" >Post orexin A (100nM)</text>
<text x="0.0" y="0.0" font-family="'Liberation Serif', 'Noto Serif CJK SC', serif" font-size="21.8" font-weight="bold" font-style="normal" text-anchor="end" fill="#000" transform="translate(1192.0 634.7) rotate(-45)" >DMSO</text>
<text x="0.0" y="0.0" font-family="'Liberation Serif', 'Noto Serif CJK SC', serif" font-size="21.8" font-weight="bold" font-style="normal" text-anchor="end" fill="#000" transform="translate(1272.2 632.7) rotate(-45)" >Forskolin(10μM)</text>
</g>
<g id="panel_c">
<text x="203.4" y="847.7" font-family="'Liberation Serif', 'Noto Serif CJK SC', serif" font-size="34.5" font-weight="normal" font-style="normal" text-anchor="start" fill="#000" >C</text>
<line x1="298.0" y1="989.5" x2="298.0" y2="1305.3" stroke="#000" stroke-width="3.6" />
<line x1="298.0" y1="1148.0" x2="878.0" y2="1148.0" stroke="#000" stroke-width="3.6" />
<line x1="380.7" y1="1148.0" x2="380.7" y2="1152.3" stroke="#000" stroke-width="2.8" />
<line x1="463.3" y1="1148.0" x2="463.3" y2="1152.3" stroke="#000" stroke-width="2.8" />
<line x1="546.0" y1="1148.0" x2="546.0" y2="1152.3" stroke="#000" stroke-width="2.8" />
<line x1="628.7" y1="1148.0" x2="628.7" y2="1152.3" stroke="#000" stroke-width="2.8" />
<line x1="711.4" y1="1148.0" x2="711.4" y2="1152.3" stroke="#000" stroke-width="2.8" />
<line x1="794.0" y1="1148.0" x2="794.0" y2="1152.3" stroke="#000" stroke-width="2.8" />
<line x1="876.7" y1="1148.0" x2="876.7" y2="1152.3" stroke="#000" stroke-width="2.8" />
<text x="283.5" y="996.2" font-family="'Liberation Serif', 'Noto Serif CJK SC', serif" font-size="16" font-weight="normal" font-style="normal" text-anchor="end" fill="#000" >200</text>
<text x="283.5" y="1074.8" font-family="'Liberation Serif', 'Noto Serif CJK SC', serif" font-size="16" font-weight="normal" font-style="normal" text-anchor="end" fill="#000" >100</text>
<text x="283.5" y="1153.4" font-family="'Liberation Serif', 'Noto Serif CJK SC', serif" font-size="16" font-weight="normal" font-style="normal" text-anchor="end" fill="#000" >0</text>
<text x="283.5" y="1232.0" font-family="'Liberation Serif', 'Noto Serif CJK SC', serif" font-size="16" font-weight="normal" font-style="normal" text-anchor="end" fill="#000" >-100</text>
<text x="283.5" y="1310.6" font-family="'Liberation Serif', 'Noto Serif CJK SC', serif" font-size="16" font-weight="normal" font-style="normal" text-anchor="end" fill="#000" >-200</text>
<text x="298.0" y="1172.5" font-family="'Liberation Serif', 'Noto Serif CJK SC', serif" font-size="15.5" font-weight="normal" font-style="normal" text-anchor="middle" fill="#000" >0</text>
<text x="380.7" y="1172.5" font-family="'Liberation Serif', 'Noto Serif CJK SC', serif" font-size="15.5" font-weight="normal" font-style="normal" text-anchor="middle" fill="#000" >1</text>
<text x="463.3" y="1172.5" font-family="'Liberation Serif', 'Noto Serif CJK SC', serif" font-size="15.5" font-weight="normal" font-style="normal" text-anchor="middle" fill="#000" >2</text>
<text x="546.0" y="1172.5" font-family="'Liberation Serif', 'Noto Serif CJK SC', serif" font-size="15.5" font-weight="normal" font-style="normal" text-anchor="middle" fill="#000" >3</text>
<text x="628.7" y="1172.5" font-family="'Liberation Serif', 'Noto Serif CJK SC', serif" font-size="15.5" font-weight="normal" font-style="normal" text-anchor="middle" fill="#000" >4</text>
<text x="711.4" y="1172.5" font-family="'Liberation Serif', 'Noto Serif CJK SC', serif" font-size="15.5" font-weight="normal" font-style="normal" text-anchor="middle" fill="#000" >5</text>
<text x="794.0" y="1172.5" font-family="'Liberation Serif', 'Noto Serif CJK SC', serif" font-size="15.5" font-weight="normal" font-style="normal" text-anchor="middle" fill="#000" >6</text>
<text x="876.7" y="1172.5" font-family="'Liberation Serif', 'Noto Serif CJK SC', serif" font-size="15.5" font-weight="normal" font-style="normal" text-anchor="middle" fill="#000" >7</text>
<path d="M297.9 1172.6 299.1 1172.6 299.1 1177.1 300.3 1177.1 300.3 1182.2 301.5 1182.2 301.5 1185.7 302.7 1185.7 302.7 1188.1 303.9 1188.1 303.9 1191.3 305.1 1191.3 305.1 1194.4 306.3 1194.4 306.3 1196.6 307.5 1196.6 307.5 1200 308.7 1200 308.7 1201.8 309.9 1201.8 309.9 1202.7 311.1 1202.7 311.1 1205.5 312.3 1205.5 312.3 1203.1 313.5 1203.1 313.5 1205.2 314.7 1205.2 314.7 1197.4 315.9 1197.4 315.9 1193.7 317.1 1193.7 317.1 1190.3 318.3 1190.3 318.3 1186 319.5 1186 319.5 1184 320.7 1184 320.7 1176.1 321.9 1176.1 321.9 1166.8 323.1 1166.8 323.1 1165.1 324.3 1165.1 324.3 1159 325.5 1159 325.5 1149.6 326.7 1149.6 326.7 1140.2 327.9 1140.2 327.9 1134.6 329.1 1134.6 329.1 1126 330.3 1126 330.3 1117.2 331.5 1117.2 331.5 1108.8 332.7 1108.8 332.7 1103.7 333.9 1103.7 333.9 1098.4 335.1 1098.4 335.1 1093.6 336.3 1093.6 336.3 1084.5 337.5 1084.5 337.5 1079.6 338.7 1079.6 338.7 1067.7 339.9 1067.7 339.9 1068.8 341.1 1068.8 341.1 1069.3 342.3 1069.3 342.3 1063.9 343.5 1063.9 343.5 1064.4 344.7 1064.4 344.7 1061.9 345.9 1061.9 345.9 1058.9 347.1 1058.9 347.1 1060 348.3 1060 348.3 1057.3 349.5 1057.3 349.5 1056.2 350.7 1056.2 350.7 1059 351.9 1059 351.9 1060.5 353.1 1060.5 353.1 1063.9 354.3 1063.9 354.3 1068.9 355.5 1068.9 355.5 1070.8 356.7 1070.8 356.7 1078.5 357.9 1078.5 357.9 1085.4 359.1 1085.4 359.1 1091.8 360.3 1091.8 360.3 1095.6 361.5 1095.6 361.5 1100.4 362.7 1100.4 362.7 1105.6 363.9 1105.6 363.9 1107.3 365.1 1107.3 365.1 1117.7 366.3 1117.7 366.3 1121.2 367.5 1121.2 367.5 1125.2 368.7 1125.2 368.7 1133.9 369.9 1133.9 369.9 1143.6 371.1 1143.6 371.1 1150 372.3 1150 372.3 1155.7 373.5 1155.7 373.5 1161.7 374.7 1161.7 374.7 1164.6 375.9 1164.6 375.9 1170.3 377.1 1170.3 377.1 1175.1 378.3 1175.1 378.3 1181.2 379.5 1181.2 379.5 1183.9 380.7 1183.9 380.7 1188.8 381.9 1188.8 381.9 1188.7 383.1 1188.7 383.1 1193.8 384.3 1193.8 384.3 1195 385.5 1195 385.5 1202.8 386.7 1202.8 386.7 1200.5 387.9 1200.5 387.9 1204.5 389.1 1204.5 389.1 1206.8 390.3 1206.8 390.3 1202.2 391.5 1202.2 391.5 1199.6 392.7 1199.6 392.7 1201.1 393.9 1201.1 393.9 1197.2 395.1 1197.2 395.1 1198.2 396.3 1198.2 396.3 1197.5 397.5 1197.5 397.5 1193.5 398.7 1193.5 398.7 1192.2 399.9 1192.2 399.9 1190.9 401.1 1190.9 401.1 1186.5 402.3 1186.5 402.3 1182.3 403.5 1182.3 403.5 1175.6 404.7 1175.6 404.7 1175.8 405.9 1175.8 405.9 1173 407.1 1173 407.1 1169.9 408.3 1169.9 408.3 1167.5 409.5 1167.5 409.5 1162.5 410.7 1162.5 410.7 1156.7 411.9 1156.7 411.9 1152.4 413.1 1152.4 413.1 1148.5 414.3 1148.5 414.3 1143.4 415.5 1143.4 415.5 1137.8 416.7 1137.8 416.7 1135 417.9 1135 417.9 1132.6 419.1 1132.6 419.1 1120.8 420.3 1120.8 420.3 1119.2 421.5 1119.2 421.5 1116.7 422.7 1116.7 422.7 1114.2 423.9 1114.2 423.9 1109.9 425.1 1109.9 425.1 1106.6 426.3 1106.6 426.3 1104 427.5 1104 427.5 1103.1 428.7 1103.1 428.7 1101 429.9 1101 429.9 1098.9 431.1 1098.9 431.1 1093.6 432.3 1093.6 432.3 1097.2 433.5 1097.2 433.5 1100.1 434.7 1100.1 434.7 1100.1 435.9 1100.1 435.9 1102 437.1 1102 437.1 1107.1 438.3 1107.1 438.3 1105.5 439.5 1105.5 439.5 1105.2 440.7 1105.2 440.7 1109.9 441.9 1109.9 441.9 1110.9 443.1 1110.9 443.1 1115.3 444.3 1115.3 444.3 1117.4 445.5 1117.4 445.5 1123.2 446.7 1123.2 446.7 1119.8 447.9 1119.8 447.9 1130.5 449.1 1130.5 449.1 1134.1 450.3 1134.1 450.3 1138.5 451.5 1138.5 451.5 1141.5 452.7 1141.5 452.7 1145.9 453.9 1145.9 453.9 1155.1 455.1 1155.1 455.1 1158.4 456.3 1158.4 456.3 1161.8 457.5 1161.8 457.5 1163.2 458.7 1163.2 458.7 1169.5 459.9 1169.5 459.9 1172.4 461.1 1172.4 461.1 1175 462.3 1175 462.3 1178.8 463.5 1178.8 463.5 1179.7 464.7 1179.7 464.7 1180.4 465.9 1180.4 465.9 1182.8 467.1 1182.8 467.1 1185.5 468.3 1185.5 468.3 1186.9 469.5 1186.9 469.5 1188.5 470.7 1188.5 470.7 1185.4 471.9 1185.4 471.9 1188.8 473.1 1188.8 473.1 1187.8 474.3 1187.8 474.3 1186.3 475.5 1186.3 475.5 1188 476.7 1188 476.7 1184.8 477.9 1184.8 477.9 1181.3 479.1 1181.3 479.1 1181.4 480.3 1181.4 480.3 1178.8 481.5 1178.8 481.5 1175.8 482.7 1175.8 482.7 1173.3 483.9 1173.3 483.9 1171.4 485.1 1171.4 485.1 1167 486.3 1167 486.3 1164.6 487.5 1164.6 487.5 1165.8 488.7 1165.8 488.7 1159.3 489.9 1159.3 489.9 1154.1 491.1 1154.1 491.1 1151.9 492.3 1151.9 492.3 1143 493.5 1143 493.5 1144 494.7 1144 494.7 1145.2 495.9 1145.2 495.9 1138.9 497.1 1138.9 497.1 1134.2 498.3 1134.2 498.3 1134.2 499.5 1134.2 499.5 1128.2 500.7 1128.2 500.7 1127.1 501.9 1127.1 501.9 1123.1 503.1 1123.1 503.1 1121.2 504.3 1121.2 504.3 1119 505.5 1119 505.5 1115.6 506.7 1115.6 506.7 1114.5 507.9 1114.5 507.9 1110.5 509.1 1110.5 509.1 1109.6 510.3 1109.6 510.3 1111.6 511.5 1111.6 511.5 1109.7 512.7 1109.7 512.7 1108.5 513.9 1108.5 513.9 1109.3 515.1 1109.3 515.1 1110.1 516.3 1110.1 516.3 1106.4 517.5 1106.4 517.5 1110.5 518.7 1110.5 518.7 1099.2 519.9 1099.2 519.9 1109.5 521.1 1109.5 521.1 1110.6 522.3 1110.6 522.3 1113.2 523.5 1113.2 523.5 1114.8 524.7 1114.8 524.7 1115.4 525.9 1115.4 525.9 1117.8 527.1 1117.8 527.1 1119.1 528.3 1119.1 528.3 1122.9 529.5 1122.9 529.5 1126.3 530.7 1126.3 530.7 1129.2 531.9 1129.2 531.9 1129.9 533.1 1129.9 533.1 1142.2 534.3 1142.2 534.3 1145.3 535.5 1145.3 535.5 1147.9 536.7 1147.9 536.7 1151.4 537.9 1151.4 537.9 1155.6 539.1 1155.6 539.1 1160.2 540.3 1160.2 540.3 1162.7 541.5 1162.7 541.5 1167.5 542.7 1167.5 542.7 1170.2 543.9 1170.2 543.9 1173.2 545.1 1173.2 545.1 1175.1 546.3 1175.1 546.3 1175.3 547.5 1175.3 547.5 1177.5 548.7 1177.5 548.7 1178.2 549.9 1178.2 549.9 1178.8 551.1 1178.8 551.1 1182.4 552.3 1182.4 552.3 1180.6 553.5 1180.6 553.5 1183.3 554.7 1183.3 554.7 1180.3 555.9 1180.3 555.9 1180.5 557.1 1180.5 557.1 1180.8 558.3 1180.8 558.3 1178.4 559.5 1178.4 559.5 1177.6 560.7 1177.6 560.7 1175.7 561.9 1175.7 561.9 1173.9 563.1 1173.9 563.1 1172.6 564.3 1172.6 564.3 1170.5 565.5 1170.5 565.5 1170.9 566.7 1170.9 566.7 1166.5 567.9 1166.5 567.9 1165.5 569.1 1165.5 569.1 1158.9 570.3 1158.9 570.3 1159.5 571.5 1159.5 571.5 1157.7 572.7 1157.7 572.7 1154.3 573.9 1154.3 573.9 1152.7 575.1 1152.7 575.1 1149 576.3 1149 576.3 1144.8 577.5 1144.8 577.5 1142.9 578.7 1142.9 578.7 1143.1 579.9 1143.1 579.9 1137.9 581.1 1137.9 581.1 1135.5 582.3 1135.5 582.3 1132.3 583.5 1132.3 583.5 1128.8 584.7 1128.8 584.7 1128.9 585.9 1128.9 585.9 1126.2 587.1 1126.2 587.1 1127.5 588.3 1127.5 588.3 1124.4 589.5 1124.4 589.5 1122.8 590.7 1122.8 590.7 1121.2 591.9 1121.2 591.9 1122.6 593.1 1122.6 593.1 1120.4 594.3 1120.4 594.3 1121.2 595.5 1121.2 595.5 1119.3 596.7 1119.3 596.7 1119.3 597.9 1119.3 597.9 1119.2 599.1 1119.2 599.1 1114.7 600.3 1114.7 600.3 1110.2 601.5 1110.2 601.5 1120.4 602.7 1120.4 602.7 1118.3 603.9 1118.3 603.9 1120.4 605.1 1120.4 605.1 1121.2 606.3 1121.2 606.3 1122.7 607.5 1122.7 607.5 1128 608.7 1128 608.7 1127.4 609.9 1127.4 609.9 1128.6 611.1 1128.6 611.1 1132.1 612.3 1132.1 612.3 1132.4 613.5 1132.4 613.5 1136.4 614.7 1136.4 614.7 1139.1 615.9 1139.1 615.9 1143.7 617.1 1143.7 617.1 1144.3 618.3 1144.3 618.3 1150.2 619.5 1150.2 619.5 1153.5 620.7 1153.5 620.7 1155.3 621.9 1155.3 621.9 1160.3 623.1 1160.3 623.1 1159.6 624.3 1159.6 624.3 1163.9 625.5 1163.9 625.5 1163.8 626.7 1163.8 626.7 1164.8 627.9 1164.8 627.9 1169.8 629.1 1169.8 629.1 1166.7 630.3 1166.7 630.3 1164.9 631.5 1164.9 631.5 1168.2 632.7 1168.2 632.7 1168.6 633.9 1168.6 633.9 1169.2 635.1 1169.2 635.1 1168.5 636.3 1168.5 636.3 1168.8 637.5 1168.8 637.5 1166.8 638.7 1166.8 638.7 1167.8 639.9 1167.8 639.9 1169.5 641.1 1169.5 641.1 1166 642.3 1166 642.3 1165.1 643.5 1165.1 643.5 1164.2 644.7 1164.2 644.7 1164.1 645.9 1164.1 645.9 1163.6 647.1 1163.6 647.1 1158.9 648.3 1158.9 648.3 1158.4 649.5 1158.4 649.5 1156.7 650.7 1156.7 650.7 1155.4 651.9 1155.4 651.9 1153.7 653.1 1153.7 653.1 1154.5 654.3 1154.5 654.3 1151.3 655.5 1151.3 655.5 1152.6 656.7 1152.6 656.7 1150.3 657.9 1150.3 657.9 1146.6 659.1 1146.6 659.1 1145 660.3 1145 660.3 1143.9 661.5 1143.9 661.5 1144.2 662.7 1144.2 662.7 1139.7 663.9 1139.7 663.9 1137 665.1 1137 665.1 1136.9 666.3 1136.9 666.3 1135.7 667.5 1135.7 667.5 1132.3 668.7 1132.3 668.7 1135.1 669.9 1135.1 669.9 1132.6 671.1 1132.6 671.1 1131.9 672.3 1131.9 672.3 1129.5 673.5 1129.5 673.5 1124.7 674.7 1124.7 674.7 1129.6 675.9 1129.6 675.9 1127 677.1 1127 677.1 1129.5 678.3 1129.5 678.3 1126.6 679.5 1126.6 679.5 1128 680.7 1128 680.7 1124.7 681.9 1124.7 681.9 1130.2 683.1 1130.2 683.1 1128.9 684.3 1128.9 684.3 1130.1 685.5 1130.1 685.5 1130.6 686.7 1130.6 686.7 1128.5 687.9 1128.5 687.9 1127.9 689.1 1127.9 689.1 1130.8 690.3 1130.8 690.3 1131.8 691.5 1131.8 691.5 1133.1 692.7 1133.1 692.7 1136.9 693.9 1136.9 693.9 1139.4 695.1 1139.4 695.1 1141.1 696.3 1141.1 696.3 1143.5 697.5 1143.5 697.5 1147.2 698.7 1147.2 698.7 1146 699.9 1146 699.9 1146 701.1 1146 701.1 1149.9 702.3 1149.9 702.3 1152 703.5 1152 703.5 1155.4 704.7 1155.4 704.7 1156.4 705.9 1156.4 705.9 1156.6 707.1 1156.6 707.1 1153.3 708.3 1153.3 708.3 1155.9 709.5 1155.9 709.5 1158 710.7 1158 710.7 1160.1 711.9 1160.1 711.9 1159.4 713.1 1159.4 713.1 1163.4 714.3 1163.4 714.3 1161 715.5 1161 715.5 1165.8 716.7 1165.8 716.7 1166.5 717.9 1166.5 717.9 1165.2 719.1 1165.2 719.1 1166.2 720.3 1166.2 720.3 1165.6 721.5 1165.6 721.5 1167 722.7 1167 722.7 1164.8 723.9 1164.8 723.9 1164.5 725.1 1164.5 725.1 1161.5 726.3 1161.5 726.3 1161.1 727.5 1161.1 727.5 1160.7 728.7 1160.7 728.7 1160.3 729.9 1160.3 729.9 1158.9 731.1 1158.9 731.1 1160.1 732.3 1160.1 732.3 1156.6 733.5 1156.6 733.5 1157.6 734.7 1157.6 734.7 1154.9 735.9 1154.9 735.9 1152.8 737.1 1152.8 737.1 1148 738.3 1148 738.3 1149.8 739.5 1149.8 739.5 1150.8 740.7 1150.8 740.7 1147.6 741.9 1147.6 741.9 1148 743.1 1148 743.1 1143.5 744.3 1143.5 744.3 1146 745.5 1146 745.5 1141.7 746.7 1141.7 746.7 1142.6 747.9 1142.6 747.9 1140.3 749.1 1140.3 749.1 1139.9 750.3 1139.9 750.3 1141.7 751.5 1141.7 751.5 1135.9 752.7 1135.9 752.7 1134.5 753.9 1134.5 753.9 1134.5 755.1 1134.5 755.1 1135.5 756.3 1135.5 756.3 1132.7 757.5 1132.7 757.5 1134.4 758.7 1134.4 758.7 1132.3 759.9 1132.3 759.9 1131.9 761.1 1131.9 761.1 1133.4 762.3 1133.4 762.3 1133.2 763.5 1133.2 763.5 1132.1 764.7 1132.1 764.7 1132.3 765.9 1132.3 765.9 1130.4 767.1 1130.4 767.1 1133.1 768.3 1133.1 768.3 1132.7 769.5 1132.7 769.5 1135.8 770.7 1135.8 770.7 1136.8 771.9 1136.8 771.9 1138.3 773.1 1138.3 773.1 1140 774.3 1140 774.3 1139.7 775.5 1139.7 775.5 1140.2 776.7 1140.2 776.7 1140.3 777.9 1140.3 777.9 1142.6 779.1 1142.6 779.1 1144.6 780.3 1144.6 780.3 1146.3 781.5 1146.3 781.5 1145.2 782.7 1145.2 782.7 1147.6 783.9 1147.6 783.9 1149.4 785.1 1149.4 785.1 1151.8 786.3 1151.8 786.3 1144.9 787.5 1144.9 787.5 1151.5 788.7 1151.5 788.7 1148.6 789.9 1148.6 789.9 1153.3 791.1 1153.3 791.1 1151.3 792.3 1151.3 792.3 1155.4 793.5 1155.4 793.5 1156.4 794.7 1156.4 794.7 1156.8 795.9 1156.8 795.9 1158.1 797.1 1158.1 797.1 1157 798.3 1157 798.3 1158.3 799.5 1158.3 799.5 1157.8 800.7 1157.8 800.7 1158.7 801.9 1158.7 801.9 1160.3 803.1 1160.3 803.1 1159.1 804.3 1159.1 804.3 1157.3 805.5 1157.3 805.5 1159 806.7 1159 806.7 1158.3 807.9 1158.3 807.9 1157.2 809.1 1157.2 809.1 1157.7 810.3 1157.7 810.3 1159.2 811.5 1159.2 811.5 1158.4 812.7 1158.4 812.7 1156.8 813.9 1156.8 813.9 1157.6 815.1 1157.6 815.1 1157 816.3 1157 816.3 1153.7 817.5 1153.7 817.5 1153.8 818.7 1153.8 818.7 1152.6 819.9 1152.6 819.9 1151.7 821.1 1151.7 821.1 1148.5 822.3 1148.5 822.3 1148.7 823.5 1148.7 823.5 1148.1 824.7 1148.1 824.7 1148.1 825.9 1148.1 825.9 1146.7 827.1 1146.7 827.1 1143.9 828.3 1143.9 828.3 1145.1 829.5 1145.1 829.5 1142.9 830.7 1142.9 830.7 1139.8 831.9 1139.8 831.9 1141.4 833.1 1141.4 833.1 1139.3 834.3 1139.3 834.3 1139.5 835.5 1139.5 835.5 1138 836.7 1138 836.7 1138.7 837.9 1138.7 837.9 1137.9 839.1 1137.9 839.1 1136.4 840.3 1136.4 840.3 1138.1 841.5 1138.1 841.5 1136.9 842.7 1136.9 842.7 1137.1 843.9 1137.1 843.9 1140 845.1 1140 845.1 1139 846.3 1139 846.3 1139.4 847.5 1139.4 847.5 1140.1 848.7 1140.1 848.7 1139.7 849.9 1139.7 849.9 1141.1 851.1 1141.1 851.1 1144.2 852.3 1144.2 852.3 1141.5 853.5 1141.5 853.5 1142.9 854.7 1142.9 854.7 1142.1 855.9 1142.1 855.9 1142.7 857.1 1142.7 857.1 1145.9 858.3 1145.9 858.3 1146.1 859.5 1146.1 859.5 1145.2 860.7 1145.2 860.7 1146.7 861.9 1146.7 861.9 1146.7 863.1 1146.7 863.1 1147.7 864.3 1147.7 864.3 1148.5 865.5 1148.5 865.5 1149.3 866.7 1149.3 866.7 1151.3 867.9 1151.3 867.9 1152.2" fill="none" stroke="#5B9BD5" stroke-width="2.7" stroke-linejoin="miter" stroke-linecap="butt" />
<path d="M297.9 1232 299.1 1232 299.1 1227.9 300.3 1227.9 300.3 1223.7 301.5 1223.7 301.5 1222.5 302.7 1222.5 302.7 1218.3 303.9 1218.3 303.9 1214.8 305.1 1214.8 305.1 1219.9 306.3 1219.9 306.3 1215.9 307.5 1215.9 307.5 1215.1 308.7 1215.1 308.7 1208.6 309.9 1208.6 309.9 1201.2 311.1 1201.2 311.1 1191.4 312.3 1191.4 312.3 1182.2 313.5 1182.2 313.5 1172.6 314.7 1172.6 314.7 1161.4 315.9 1161.4 315.9 1153.4 317.1 1153.4 317.1 1136.4 318.3 1136.4 318.3 1126.2 319.5 1126.2 319.5 1112.7 320.7 1112.7 320.7 1100 321.9 1100 321.9 1084.5 323.1 1084.5 323.1 1073.7 324.3 1073.7 324.3 1064.4 325.5 1064.4 325.5 1052.4 326.7 1052.4 326.7 1044.7 327.9 1044.7 327.9 1034.6 329.1 1034.6 329.1 1027.4 330.3 1027.4 330.3 1018.3 331.5 1018.3 331.5 1014.8 332.7 1014.8 332.7 1007.8 333.9 1007.8 333.9 1005.4 335.1 1005.4 335.1 1003.9 336.3 1003.9 336.3 998.7 337.5 998.7 337.5 999.9 338.7 999.9 338.7 1001.7 339.9 1001.7 339.9 1005.8 341.1 1005.8 341.1 1013.6 342.3 1013.6 342.3 1024.4 343.5 1024.4 343.5 1027.5 344.7 1027.5 344.7 1038.1 345.9 1038.1 345.9 1046.4 347.1 1046.4 347.1 1058.4 348.3 1058.4 348.3 1067.9 349.5 1067.9 349.5 1079.9 350.7 1079.9 350.7 1088.1 351.9 1088.1 351.9 1102.2 353.1 1102.2 353.1 1112 354.3 1112 354.3 1123 355.5 1123 355.5 1131.6 356.7 1131.6 356.7 1142.5 357.9 1142.5 357.9 1151.6 359.1 1151.6 359.1 1158.9 360.3 1158.9 360.3 1170.2 361.5 1170.2 361.5 1179.6 362.7 1179.6 362.7 1186.9 363.9 1186.9 363.9 1195.7 365.1 1195.7 365.1 1202.2 366.3 1202.2 366.3 1210.8 367.5 1210.8 367.5 1217.2 368.7 1217.2 368.7 1223.4 369.9 1223.4 369.9 1232.2 371.1 1232.2 371.1 1231.6 372.3 1231.6 372.3 1234.5 373.5 1234.5 373.5 1236.9 374.7 1236.9 374.7 1239.8 375.9 1239.8 375.9 1240.7 377.1 1240.7 377.1 1244.7 378.3 1244.7 378.3 1243.9 379.5 1243.9 379.5 1245.2 380.7 1245.2 380.7 1245.8 381.9 1245.8 381.9 1242.6 383.1 1242.6 383.1 1239.4 384.3 1239.4 384.3 1237.5 385.5 1237.5 385.5 1231.4 386.7 1231.4 386.7 1227.4 387.9 1227.4 387.9 1219.5 389.1 1219.5 389.1 1211.5 390.3 1211.5 390.3 1203.6 391.5 1203.6 391.5 1193.5 392.7 1193.5 392.7 1183.7 393.9 1183.7 393.9 1173.4 395.1 1173.4 395.1 1164.9 396.3 1164.9 396.3 1155.2 397.5 1155.2 397.5 1148.8 398.7 1148.8 398.7 1140.4 399.9 1140.4 399.9 1133.6 401.1 1133.6 401.1 1123 402.3 1123 402.3 1115.9 403.5 1115.9 403.5 1111.2 404.7 1111.2 404.7 1103.8 405.9 1103.8 405.9 1097.6 407.1 1097.6 407.1 1091.9 408.3 1091.9 408.3 1082.9 409.5 1082.9 409.5 1081.8 410.7 1081.8 410.7 1078.2 411.9 1078.2 411.9 1075.2 413.1 1075.2 413.1 1071.1 414.3 1071.1 414.3 1068.8 415.5 1068.8 415.5 1066.1 416.7 1066.1 416.7 1065.6 417.9 1065.6 417.9 1064.4 419.1 1064.4 419.1 1063.9 420.3 1063.9 420.3 1065.6 421.5 1065.6 421.5 1066.8 422.7 1066.8 422.7 1070.8 423.9 1070.8 423.9 1071.5 425.1 1071.5 425.1 1074.2 426.3 1074.2 426.3 1078.7 427.5 1078.7 427.5 1084.7 428.7 1084.7 428.7 1090 429.9 1090 429.9 1097.7 431.1 1097.7 431.1 1101.8 432.3 1101.8 432.3 1105.5 433.5 1105.5 433.5 1112.3 434.7 1112.3 434.7 1117.8 435.9 1117.8 435.9 1126.3 437.1 1126.3 437.1 1133.1 438.3 1133.1 438.3 1138.5 439.5 1138.5 439.5 1146.7 440.7 1146.7 440.7 1153.1 441.9 1153.1 441.9 1162.9 443.1 1162.9 443.1 1168.1 444.3 1168.1 444.3 1172.7 445.5 1172.7 445.5 1178.2 446.7 1178.2 446.7 1185.5 447.9 1185.5 447.9 1191 449.1 1191 449.1 1196.7 450.3 1196.7 450.3 1203.7 451.5 1203.7 451.5 1203.5 452.7 1203.5 452.7 1206.7 453.9 1206.7 453.9 1212.5 455.1 1212.5 455.1 1213.2 456.3 1213.2 456.3 1214.5 457.5 1214.5 457.5 1216.4 458.7 1216.4 458.7 1219.2 459.9 1219.2 459.9 1219.2 461.1 1219.2 461.1 1220 462.3 1220 462.3 1219.8 463.5 1219.8 463.5 1216.9 464.7 1216.9 464.7 1215.7 465.9 1215.7 465.9 1213.1 467.1 1213.1 467.1 1208.1 468.3 1208.1 468.3 1204.8 469.5 1204.8 469.5 1198.6 470.7 1198.6 470.7 1193.8 471.9 1193.8 471.9 1187.7 473.1 1187.7 473.1 1182.5 474.3 1182.5 474.3 1176.9 475.5 1176.9 475.5 1171.2 476.7 1171.2 476.7 1162.9 477.9 1162.9 477.9 1157.6 479.1 1157.6 479.1 1152.1 480.3 1152.1 480.3 1145.9 481.5 1145.9 481.5 1141.7 482.7 1141.7 482.7 1137.4 483.9 1137.4 483.9 1125.6 485.1 1125.6 485.1 1127.1 486.3 1127.1 486.3 1121.3 487.5 1121.3 487.5 1116.6 488.7 1116.6 488.7 1112.2 489.9 1112.2 489.9 1105 491.1 1105 491.1 1104.4 492.3 1104.4 492.3 1098.2 493.5 1098.2 493.5 1095.2 494.7 1095.2 494.7 1094.1 495.9 1094.1 495.9 1091.7 497.1 1091.7 497.1 1091.3 498.3 1091.3 498.3 1086.2 499.5 1086.2 499.5 1089.3 500.7 1089.3 500.7 1087.1 501.9 1087.1 501.9 1088.4 503.1 1088.4 503.1 1093.5 504.3 1093.5 504.3 1093.4 505.5 1093.4 505.5 1095.5 506.7 1095.5 506.7 1099.2 507.9 1099.2 507.9 1101 509.1 1101 509.1 1106.8 510.3 1106.8 510.3 1107 511.5 1107 511.5 1112.7 512.7 1112.7 512.7 1116.2 513.9 1116.2 513.9 1122.3 515.1 1122.3 515.1 1127.9 516.3 1127.9 516.3 1131.2 517.5 1131.2 517.5 1133.3 518.7 1133.3 518.7 1140.9 519.9 1140.9 519.9 1147.8 521.1 1147.8 521.1 1150.4 522.3 1150.4 522.3 1154.5 523.5 1154.5 523.5 1161.8 524.7 1161.8 524.7 1163.1 525.9 1163.1 525.9 1168.1 527.1 1168.1 527.1 1173.2 528.3 1173.2 528.3 1177.3 529.5 1177.3 529.5 1177.8 530.7 1177.8 530.7 1180.2 531.9 1180.2 531.9 1183.7 533.1 1183.7 533.1 1186.6 534.3 1186.6 534.3 1189.1 535.5 1189.1 535.5 1190.8 536.7 1190.8 536.7 1194.6 537.9 1194.6 537.9 1198.2 539.1 1198.2 539.1 1196.4 540.3 1196.4 540.3 1197.9 541.5 1197.9 541.5 1198.6 542.7 1198.6 542.7 1196.1 543.9 1196.1 543.9 1193.5 545.1 1193.5 545.1 1192 546.3 1192 546.3 1193 547.5 1193 547.5 1186.7 548.7 1186.7 548.7 1183.5 549.9 1183.5 549.9 1180.8 551.1 1180.8 551.1 1173.8 552.3 1173.8 552.3 1168.9 553.5 1168.9 553.5 1164.3 554.7 1164.3 554.7 1159 555.9 1159 555.9 1155.9 557.1 1155.9 557.1 1152.1 558.3 1152.1 558.3 1143.9 559.5 1143.9 559.5 1141.7 560.7 1141.7 560.7 1135.8 561.9 1135.8 561.9 1131.4 563.1 1131.4 563.1 1127.3 564.3 1127.3 564.3 1121.9 565.5 1121.9 565.5 1118.8 566.7 1118.8 566.7 1115.1 567.9 1115.1 567.9 1115.3 569.1 1115.3 569.1 1113.2 570.3 1113.2 570.3 1109.1 571.5 1109.1 571.5 1106.8 572.7 1106.8 572.7 1107.7 573.9 1107.7 573.9 1105.3 575.1 1105.3 575.1 1105.8 576.3 1105.8 576.3 1104.8 577.5 1104.8 577.5 1103.4 578.7 1103.4 578.7 1101.6 579.9 1101.6 579.9 1102.3 581.1 1102.3 581.1 1103.8 582.3 1103.8 582.3 1105.4 583.5 1105.4 583.5 1105.2 584.7 1105.2 584.7 1107.7 585.9 1107.7 585.9 1112.1 587.1 1112.1 587.1 1116.2 588.3 1116.2 588.3 1119.8 589.5 1119.8 589.5 1124.3 590.7 1124.3 590.7 1128.8 591.9 1128.8 591.9 1129.8 593.1 1129.8 593.1 1135.8 594.3 1135.8 594.3 1139.1 595.5 1139.1 595.5 1141.9 596.7 1141.9 596.7 1145.5 597.9 1145.5 597.9 1149.1 599.1 1149.1 599.1 1153.9 600.3 1153.9 600.3 1155.4 601.5 1155.4 601.5 1158.2 602.7 1158.2 602.7 1160.7 603.9 1160.7 603.9 1165.7 605.1 1165.7 605.1 1167.5 606.3 1167.5 606.3 1172.7 607.5 1172.7 607.5 1174.2 608.7 1174.2 608.7 1176 609.9 1176 609.9 1178.1 611.1 1178.1 611.1 1179.9 612.3 1179.9 612.3 1182.5 613.5 1182.5 613.5 1178.9 614.7 1178.9 614.7 1184.4 615.9 1184.4 615.9 1185 617.1 1185 617.1 1184.7 618.3 1184.7 618.3 1185.5 619.5 1185.5 619.5 1184.7 620.7 1184.7 620.7 1185.5 621.9 1185.5 621.9 1184.5 623.1 1184.5 623.1 1181.4 624.3 1181.4 624.3 1181.5 625.5 1181.5 625.5 1181.5 626.7 1181.5 626.7 1177.8 627.9 1177.8 627.9 1174 629.1 1174 629.1 1171.7 630.3 1171.7 630.3 1166.1 631.5 1166.1 631.5 1163.2 632.7 1163.2 632.7 1159.6 633.9 1159.6 633.9 1156.5 635.1 1156.5 635.1 1150.2 636.3 1150.2 636.3 1145.8 637.5 1145.8 637.5 1144.5 638.7 1144.5 638.7 1138.9 639.9 1138.9 639.9 1136.3 641.1 1136.3 641.1 1135.3 642.3 1135.3 642.3 1129.6 643.5 1129.6 643.5 1125.3 644.7 1125.3 644.7 1127 645.9 1127 645.9 1122.6 647.1 1122.6 647.1 1121.3 648.3 1121.3 648.3 1123.1 649.5 1123.1 649.5 1120.1 650.7 1120.1 650.7 1120.9 651.9 1120.9 651.9 1118.8 653.1 1118.8 653.1 1117.7 654.3 1117.7 654.3 1117.5 655.5 1117.5 655.5 1115.9 656.7 1115.9 656.7 1114.5 657.9 1114.5 657.9 1115.6 659.1 1115.6 659.1 1115.3 660.3 1115.3 660.3 1116.9 661.5 1116.9 661.5 1121.2 662.7 1121.2 662.7 1123.2 663.9 1123.2 663.9 1126 665.1 1126 665.1 1130 666.3 1130 666.3 1132.5 667.5 1132.5 667.5 1134.8 668.7 1134.8 668.7 1135.5 669.9 1135.5 669.9 1138.9 671.1 1138.9 671.1 1144.7 672.3 1144.7 672.3 1146.7 673.5 1146.7 673.5 1147 674.7 1147 674.7 1150.3 675.9 1150.3 675.9 1152.9 677.1 1152.9 677.1 1156.6 678.3 1156.6 678.3 1156.9 679.5 1156.9 679.5 1162.7 680.7 1162.7 680.7 1162.7 681.9 1162.7 681.9 1164.8 683.1 1164.8 683.1 1167.9 684.3 1167.9 684.3 1168 685.5 1168 685.5 1170 686.7 1170 686.7 1170.5 687.9 1170.5 687.9 1173.1 689.1 1173.1 689.1 1172.5 690.3 1172.5 690.3 1173.8 691.5 1173.8 691.5 1174.3 692.7 1174.3 692.7 1173.8 693.9 1173.8 693.9 1176.1 695.1 1176.1 695.1 1176.2 696.3 1176.2 696.3 1174.7 697.5 1174.7 697.5 1176.6 698.7 1176.6 698.7 1174.1 699.9 1174.1 699.9 1174.5 701.1 1174.5 701.1 1172.1 702.3 1172.1 702.3 1170.9 703.5 1170.9 703.5 1170 704.7 1170 704.7 1169.8 705.9 1169.8 705.9 1164.2 707.1 1164.2 707.1 1162.9 708.3 1162.9 708.3 1160.5 709.5 1160.5 709.5 1158.9 710.7 1158.9 710.7 1154.5 711.9 1154.5 711.9 1151.8 713.1 1151.8 713.1 1149.7 714.3 1149.7 714.3 1146.8 715.5 1146.8 715.5 1143.4 716.7 1143.4 716.7 1141 717.9 1141 717.9 1138.7 719.1 1138.7 719.1 1136.7 720.3 1136.7 720.3 1133.4 721.5 1133.4 721.5 1135.2 722.7 1135.2 722.7 1131.8 723.9 1131.8 723.9 1128.7 725.1 1128.7 725.1 1127 726.3 1127 726.3 1126.1 727.5 1126.1 727.5 1126 728.7 1126 728.7 1121.5 729.9 1121.5 729.9 1120.8 731.1 1120.8 731.1 1123.4 732.3 1123.4 732.3 1119.8 733.5 1119.8 733.5 1118.9 734.7 1118.9 734.7 1120.5 735.9 1120.5 735.9 1122.4 737.1 1122.4 737.1 1121.1 738.3 1121.1 738.3 1121.5 739.5 1121.5 739.5 1123 740.7 1123 740.7 1126.2 741.9 1126.2 741.9 1124.2 743.1 1124.2 743.1 1122 744.3 1122 744.3 1127.3 745.5 1127.3 745.5 1129.1 746.7 1129.1 746.7 1131 747.9 1131 747.9 1134.7 749.1 1134.7 749.1 1137 750.3 1137 750.3 1139.9 751.5 1139.9 751.5 1142 752.7 1142 752.7 1144.1 753.9 1144.1 753.9 1144.8 755.1 1144.8 755.1 1149.4 756.3 1149.4 756.3 1151.1 757.5 1151.1 757.5 1152.2 758.7 1152.2 758.7 1156 759.9 1156 759.9 1158.7 761.1 1158.7 761.1 1160.4 762.3 1160.4 762.3 1159.9 763.5 1159.9 763.5 1163.1 764.7 1163.1 764.7 1164.5 765.9 1164.5 765.9 1166.6 767.1 1166.6 767.1 1166.5 768.3 1166.5 768.3 1170.4 769.5 1170.4 769.5 1171.7 770.7 1171.7 770.7 1172.5 771.9 1172.5 771.9 1172.8 773.1 1172.8 773.1 1173.6 774.3 1173.6 774.3 1175.5 775.5 1175.5 775.5 1175.8 776.7 1175.8 776.7 1173.9 777.9 1173.9 777.9 1173.5 779.1 1173.5 779.1 1172.9 780.3 1172.9 780.3 1172.8 781.5 1172.8 781.5 1171.7 782.7 1171.7 782.7 1170.1 783.9 1170.1 783.9 1168.1 785.1 1168.1 785.1 1163.9 786.3 1163.9 786.3 1160.1 787.5 1160.1 787.5 1159.9 788.7 1159.9 788.7 1156.5 789.9 1156.5 789.9 1156.8 791.1 1156.8 791.1 1156.6 792.3 1156.6 792.3 1155.3 793.5 1155.3 793.5 1153.4 794.7 1153.4 794.7 1150.5 795.9 1150.5 795.9 1147.8 797.1 1147.8 797.1 1143.5 798.3 1143.5 798.3 1141.1 799.5 1141.1 799.5 1137.5 800.7 1137.5 800.7 1134.3 801.9 1134.3 801.9 1130.9 803.1 1130.9 803.1 1130.1 804.3 1130.1 804.3 1127.7 805.5 1127.7 805.5 1124.8 806.7 1124.8 806.7 1124.7 807.9 1124.7 807.9 1128.3 809.1 1128.3 809.1 1124.8 810.3 1124.8 810.3 1122.4 811.5 1122.4 811.5 1122.5 812.7 1122.5 812.7 1122.5 813.9 1122.5 813.9 1123.8 815.1 1123.8 815.1 1121.5 816.3 1121.5 816.3 1122.1 817.5 1122.1 817.5 1122.6 818.7 1122.6 818.7 1118.6 819.9 1118.6 819.9 1128.5 821.1 1128.5 821.1 1124.3 822.3 1124.3 822.3 1125 823.5 1125 823.5 1126.8 824.7 1126.8 824.7 1128.3 825.9 1128.3 825.9 1130.7 827.1 1130.7 827.1 1133.2 828.3 1133.2 828.3 1134.2 829.5 1134.2 829.5 1136.7 830.7 1136.7 830.7 1137.5 831.9 1137.5 831.9 1138.8 833.1 1138.8 833.1 1140.1 834.3 1140.1 834.3 1143.3 835.5 1143.3 835.5 1143.6 836.7 1143.6 836.7 1144.9 837.9 1144.9 837.9 1148.5 839.1 1148.5 839.1 1149.3 840.3 1149.3 840.3 1151.2 841.5 1151.2 841.5 1152.7 842.7 1152.7 842.7 1155.1 843.9 1155.1 843.9 1158.3 845.1 1158.3 845.1 1157.1 846.3 1157.1 846.3 1159.7 847.5 1159.7 847.5 1157.7 848.7 1157.7 848.7 1160.3 849.9 1160.3 849.9 1160.6 851.1 1160.6 851.1 1162.7 852.3 1162.7 852.3 1165.1 853.5 1165.1 853.5 1165.5 854.7 1165.5 854.7 1166.4 855.9 1166.4 855.9 1163.4 857.1 1163.4 857.1 1162.9 858.3 1162.9 858.3 1163.9 859.5 1163.9 859.5 1163.5 860.7 1163.5 860.7 1163.4 861.9 1163.4 861.9 1163.9 863.1 1163.9 863.1 1162.7 864.3 1162.7 864.3 1163.8 865.5 1163.8 865.5 1160 866.7 1160 866.7 1159.4 867.9 1159.4 867.9 1155.4 869.1 1155.4 869.1 1153.3" fill="none" stroke="#ED7D31" stroke-width="2.6" stroke-linejoin="miter" stroke-linecap="butt" />
<text x="887.3" y="1164.8" font-family="'Liberation Serif', 'Noto Serif CJK SC', serif" font-size="25" font-weight="normal" font-style="normal" text-anchor="start" fill="#000" >day</text>
<text x="0.0" y="0.0" font-family="'Liberation Serif', 'Noto Serif CJK SC', serif" font-size="42" font-weight="bold" font-style="normal" text-anchor="middle" fill="#000" transform="translate(245.0 1143.0) rotate(-90)" >counts/sec</text>
<line x1="420.0" y1="1319.7" x2="452.8" y2="1319.7" stroke="#5B9BD5" stroke-width="2.8" />
<text x="466.7" y="1327.3" font-family="'Liberation Serif', 'Noto Serif CJK SC', serif" font-size="21.5" font-weight="bold" font-style="normal" text-anchor="start" fill="#000" >DMSO</text>
<line x1="540.0" y1="1319.7" x2="557.6" y2="1319.7" stroke="#ED7D31" stroke-width="2.8" />
<text x="568.3" y="1327.3" font-family="'Liberation Serif', 'Noto Serif CJK SC', serif" font-size="21.5" font-weight="bold" font-style="normal" text-anchor="start" fill="#000" >OR-B</text>
<text x="628.0" y="1327.3" font-family="'Liberation Serif', 'Noto Serif CJK SC', serif" font-size="21.5" font-weight="normal" font-style="normal" text-anchor="start" fill="#000" >（</text>
<text x="651.3" y="1327.3" font-family="'Liberation Serif', 'Noto Serif CJK SC', serif" font-size="21.5" font-weight="bold" font-style="normal" text-anchor="start" fill="#000" >500nM</text>
<text x="715.0" y="1327.3" font-family="'Liberation Serif', 'Noto Serif CJK SC', serif" font-size="21.5" font-weight="normal" font-style="normal" text-anchor="start" fill="#000" >）</text>
</g>
<g id="panel_d">
<text x="986.1" y="825.2" font-family="'Liberation Serif', 'Noto Serif CJK SC', serif" font-size="34.5" font-weight="normal" font-style="normal" text-anchor="start" fill="#000" >D</text>
<text x="1181.9" y="894.6" font-family="'Liberation Serif', 'Noto Serif CJK SC', serif" font-size="22" font-weight="normal" font-style="normal" text-anchor="middle" fill="#000" >**</text>
<line x1="1088.0" y1="895.0" x2="1272.7" y2="895.0" stroke="#000" stroke-width="1.4" />
<text x="1131.5" y="934.3" font-family="'Liberation Serif', 'Noto Serif CJK SC', serif" font-size="33" font-weight="normal" font-style="normal" text-anchor="middle" fill="#000" >N.S.</text>
<line x1="1090.0" y1="941.7" x2="1161.4" y2="941.7" stroke="#000" stroke-width="1.5" />
<line x1="1062.5" y1="960.1" x2="1062.5" y2="1337.7" stroke="#000" stroke-width="3.5" />
<line x1="1056.5" y1="1336.0" x2="1285.3" y2="1336.0" stroke="#000" stroke-width="3.5" />
<line x1="1056.5" y1="1336.0" x2="1062.5" y2="1336.0" stroke="#000" stroke-width="3" />
<text x="1048.0" y="1342.2" font-family="'Liberation Serif', 'Noto Serif CJK SC', serif" font-size="16.5" font-weight="normal" font-style="normal" text-anchor="end" fill="#000" >22</text>
<line x1="1056.5" y1="1211.2" x2="1062.5" y2="1211.2" stroke="#000" stroke-width="3" />
<text x="1048.0" y="1217.4" font-family="'Liberation Serif', 'Noto Serif CJK SC', serif" font-size="16.5" font-weight="normal" font-style="normal" text-anchor="end" fill="#000" >23</text>
<line x1="1056.5" y1="1086.4" x2="1062.5" y2="1086.4" stroke="#000" stroke-width="3" />
<text x="1048.0" y="1092.6" font-family="'Liberation Serif', 'Noto Serif CJK SC', serif" font-size="16.5" font-weight="normal" font-style="normal" text-anchor="end" fill="#000" >24</text>
<line x1="1056.5" y1="961.6" x2="1062.5" y2="961.6" stroke="#000" stroke-width="3" />
<text x="1048.0" y="967.8" font-family="'Liberation Serif', 'Noto Serif CJK SC', serif" font-size="16.5" font-weight="normal" font-style="normal" text-anchor="end" fill="#000" >25</text>
<line x1="1062.7" y1="1336.0" x2="1062.7" y2="1341.5" stroke="#000" stroke-width="3" />
<line x1="1136.0" y1="1336.0" x2="1136.0" y2="1341.5" stroke="#000" stroke-width="3" />
<line x1="1210.0" y1="1336.0" x2="1210.0" y2="1341.5" stroke="#000" stroke-width="3" />
<line x1="1283.6" y1="1336.0" x2="1283.6" y2="1341.5" stroke="#000" stroke-width="3" />
<text x="0.0" y="0.0" font-family="'Liberation Serif', 'Noto Serif CJK SC', serif" font-size="31" font-weight="bold" font-style="normal" text-anchor="middle" fill="#000" transform="translate(998.0 1141.0) rotate(-90)" >Periods length (Hour)</text>
<rect x="1088.0" y="1018.6" width="23.0" height="317.4" fill="url(#dotsWhiteOnBlack)" stroke="none" stroke-width="0" />
<rect x="1161.8" y="971.2" width="23.2" height="364.8" fill="url(#dotsBlackOnWhite)" stroke="none" stroke-width="0" />
<rect x="1234.9" y="1140.4" width="24.0" height="195.6" fill="url(#hatchThick)" stroke="none" stroke-width="0" />
<line x1="1099.3" y1="1013.6" x2="1099.3" y2="1023.5" stroke="#555" stroke-width="1.1" /><line x1="1095.1" y1="1013.6" x2="1103.5" y2="1013.6" stroke="#555" stroke-width="1.1" /><line x1="1095.1" y1="1023.5" x2="1103.5" y2="1023.5" stroke="#555" stroke-width="1.1" />
<line x1="1173.1" y1="961.6" x2="1173.1" y2="979.9" stroke="#555" stroke-width="1.1" /><line x1="1169.1" y1="961.6" x2="1177.1" y2="961.6" stroke="#555" stroke-width="1.1" /><line x1="1169.1" y1="979.9" x2="1177.1" y2="979.9" stroke="#555" stroke-width="1.1" />
<line x1="1246.4" y1="1129.7" x2="1246.4" y2="1151.0" stroke="#555" stroke-width="1.1" /><line x1="1242.4" y1="1129.7" x2="1250.4" y2="1129.7" stroke="#555" stroke-width="1.1" /><line x1="1242.4" y1="1151.0" x2="1250.4" y2="1151.0" stroke="#555" stroke-width="1.1" />
<text x="0.0" y="0.0" font-family="'Liberation Serif', 'Noto Serif CJK SC', serif" font-size="22" font-weight="bold" font-style="normal" text-anchor="end" fill="#000" transform="translate(1100.0 1360.7) rotate(-45)" >Control</text>
<text x="0.0" y="0.0" font-family="'Liberation Serif', 'Noto Serif CJK SC', serif" font-size="22" font-weight="bold" font-style="normal" text-anchor="end" fill="#000" transform="translate(1189.1 1352.5) rotate(-45)" >Forskolin（10μM）</text>
<text x="0.0" y="0.0" font-family="'Liberation Serif', 'Noto Serif CJK SC', serif" font-size="22" font-weight="bold" font-style="normal" text-anchor="end" fill="#000" transform="translate(1272.7 1358.0) rotate(-45)" >OR-B（ 500nM）</text>
</g>
<g id="panel_ef">
<text x="11.4" y="1569.6" font-family="'Liberation Serif', 'Noto Serif CJK SC', serif" font-size="45.5" font-weight="normal" font-style="normal" text-anchor="start" fill="#000" >E</text>
<text x="2.4" y="1890.0" font-family="'Liberation Serif', 'Noto Serif CJK SC', serif" font-size="45.5" font-weight="normal" font-style="normal" text-anchor="start" fill="#000" >F</text>
<line x1="100.5" y1="1611.9" x2="100.5" y2="1847.2" stroke="#000" stroke-width="2.4" />
<line x1="100.5" y1="1729.5" x2="535.5" y2="1729.5" stroke="#000" stroke-width="2.4" />
<line x1="95.0" y1="1613.1" x2="100.5" y2="1613.1" stroke="#000" stroke-width="2.2" />
<line x1="95.0" y1="1671.3" x2="100.5" y2="1671.3" stroke="#000" stroke-width="2.2" />
<text x="87.2" y="1676.0" font-family="'Liberation Serif', 'Noto Serif CJK SC', serif" font-size="14.5" font-weight="normal" font-style="normal" text-anchor="end" fill="#000" >25</text>
<line x1="95.0" y1="1729.5" x2="100.5" y2="1729.5" stroke="#000" stroke-width="2.2" />
<text x="87.2" y="1734.2" font-family="'Liberation Serif', 'Noto Serif CJK SC', serif" font-size="14.5" font-weight="normal" font-style="normal" text-anchor="end" fill="#000" >0</text>
<line x1="95.0" y1="1787.8" x2="100.5" y2="1787.8" stroke="#000" stroke-width="2.2" />
<text x="87.2" y="1792.5" font-family="'Liberation Serif', 'Noto Serif CJK SC', serif" font-size="14.5" font-weight="normal" font-style="normal" text-anchor="end" fill="#000" >-25</text>
<line x1="95.0" y1="1846.0" x2="100.5" y2="1846.0" stroke="#000" stroke-width="2.2" />
<text x="87.2" y="1850.7" font-family="'Liberation Serif', 'Noto Serif CJK SC', serif" font-size="14.5" font-weight="normal" font-style="normal" text-anchor="end" fill="#000" >-50</text>
<text x="100.5" y="1753.0" font-family="'Liberation Serif', 'Noto Serif CJK SC', serif" font-size="14.5" font-weight="normal" font-style="normal" text-anchor="middle" fill="#000" >0</text>
<line x1="154.7" y1="1729.5" x2="154.7" y2="1733.5" stroke="#000" stroke-width="2.2" />
<text x="154.7" y="1753.0" font-family="'Liberation Serif', 'Noto Serif CJK SC', serif" font-size="14.5" font-weight="normal" font-style="normal" text-anchor="middle" fill="#000" >0.5</text>
<line x1="208.9" y1="1729.5" x2="208.9" y2="1733.5" stroke="#000" stroke-width="2.2" />
<text x="208.9" y="1753.0" font-family="'Liberation Serif', 'Noto Serif CJK SC', serif" font-size="14.5" font-weight="normal" font-style="normal" text-anchor="middle" fill="#000" >1</text>
<line x1="263.2" y1="1729.5" x2="263.2" y2="1733.5" stroke="#000" stroke-width="2.2" />
<text x="263.2" y="1753.0" font-family="'Liberation Serif', 'Noto Serif CJK SC', serif" font-size="14.5" font-weight="normal" font-style="normal" text-anchor="middle" fill="#000" >1.5</text>
<line x1="317.4" y1="1729.5" x2="317.4" y2="1733.5" stroke="#000" stroke-width="2.2" />
<text x="317.4" y="1753.0" font-family="'Liberation Serif', 'Noto Serif CJK SC', serif" font-size="14.5" font-weight="normal" font-style="normal" text-anchor="middle" fill="#000" >2</text>
<line x1="371.6" y1="1729.5" x2="371.6" y2="1733.5" stroke="#000" stroke-width="2.2" />
<text x="371.6" y="1753.0" font-family="'Liberation Serif', 'Noto Serif CJK SC', serif" font-size="14.5" font-weight="normal" font-style="normal" text-anchor="middle" fill="#000" >2.5</text>
<line x1="425.8" y1="1729.5" x2="425.8" y2="1733.5" stroke="#000" stroke-width="2.2" />
<text x="425.8" y="1753.0" font-family="'Liberation Serif', 'Noto Serif CJK SC', serif" font-size="14.5" font-weight="normal" font-style="normal" text-anchor="middle" fill="#000" >3</text>
<line x1="480.1" y1="1729.5" x2="480.1" y2="1733.5" stroke="#000" stroke-width="2.2" />
<text x="480.1" y="1753.0" font-family="'Liberation Serif', 'Noto Serif CJK SC', serif" font-size="14.5" font-weight="normal" font-style="normal" text-anchor="middle" fill="#000" >3.5</text>
<line x1="534.3" y1="1729.5" x2="534.3" y2="1733.5" stroke="#000" stroke-width="2.2" />
<text x="534.3" y="1753.0" font-family="'Liberation Serif', 'Noto Serif CJK SC', serif" font-size="14.5" font-weight="normal" font-style="normal" text-anchor="middle" fill="#000" >4</text>
<path d="M100.5 1747.2 102.1 1735.7 103.7 1736.4 105.3 1724.7 106.9 1724.6 108.5 1714.6 110.1 1713.1 111.7 1701 113.3 1707 114.9 1699.4 116.5 1701.4 118.1 1690.5 119.7 1691.7 121.3 1686.7 122.9 1685.1 124.5 1679.2 126.1 1685.6 127.7 1679.2 129.3 1678.2 130.9 1676.1 132.5 1681.6 134.1 1676.3 135.7 1678.6 137.3 1677 138.9 1686.3 140.5 1682.1 142.1 1694 143.7 1690.8 145.3 1709 146.9 1707.4 148.5 1719.6 150.1 1717.8 151.7 1733 153.3 1736.9 154.9 1753.3 156.5 1752.3 158.1 1763.3 159.7 1760.4 161.3 1775.4 162.9 1775.4 164.5 1781.1 166.1 1773.9 167.7 1795.3 169.3 1791.1 170.9 1800.3 172.5 1797.4 174.1 1809.9 175.7 1803 177.3 1811.3 178.9 1808.4 180.5 1816.3 182.1 1811.8 183.7 1811.1 185.3 1804.7 186.9 1812 188.5 1795.1 190.1 1792.6 191.7 1787.5 193.3 1785.5 194.9 1768.3 196.5 1773.9 198.1 1756.9 199.7 1763.9 201.3 1745.9 202.9 1743 204.5 1731.2 206.1 1732.2 207.7 1714.9 209.3 1707.5 210.9 1695.9 212.5 1693.2 214.1 1687.4 215.7 1686.9 217.3 1674.5 218.9 1670.1 220.5 1663 222.1 1664.8 223.7 1644.9 225.3 1658.5 226.9 1649.5 228.5 1657.9 230.1 1649.6 231.7 1656.4 233.3 1649.1 234.9 1654.3 236.5 1649 238.1 1656 239.7 1649.3 241.3 1657.2 242.9 1660.4 244.5 1665.4 246.1 1660.5 247.7 1669.4 249.3 1665.6 250.9 1681.8 252.5 1683.8 254.1 1694.3 255.7 1695 257.3 1704.5 258.9 1704.7 260.5 1724.5 262.1 1726.5 263.7 1738 265.3 1741.1 266.9 1756.6 268.5 1750.8 270.1 1764.8 271.7 1771.4 273.3 1774.7 274.9 1778.6 276.5 1782.1 278.1 1782.2 279.7 1789.5 281.3 1786.9 282.9 1791 284.5 1790.6 286.1 1800.5 287.7 1798.3 289.3 1802.9 290.9 1791.4 292.5 1795.7 294.1 1785.7 295.7 1784 297.3 1773.7 298.9 1776.9 300.5 1761.2 302.1 1768.5 303.7 1750.7 305.3 1754.1 306.9 1746.6 308.5 1749.4 310.1 1734.9 311.7 1735.8 313.3 1726.1 314.9 1729.2 316.5 1716 318.1 1717.5 319.7 1699.3 321.3 1706.5 322.9 1704.3 324.5 1703.5 326.1 1687.4 327.7 1684.5 329.3 1667.6 330.9 1673.9 332.5 1658.8 334.1 1659.2 335.7 1650.8 337.3 1650.8 338.9 1639.4 340.5 1650.4 342.1 1643.8 343.7 1651.7 345.3 1648.8 346.9 1657.2 348.5 1655.7 350.1 1666.4 351.7 1663.1 353.3 1671.4 354.9 1675.8 356.5 1688.5 358.1 1689.4 359.7 1698.5 361.3 1701.2 362.9 1714 364.5 1712 366.1 1727.2 367.7 1729.6 369.3 1741.1 370.9 1735.7 372.5 1751.3 374.1 1752.4 375.7 1766.7 377.3 1757.4 378.9 1777.6 380.5 1774.7 382.1 1789.6 383.7 1784.4 385.3 1799.7 386.9 1799.1 388.5 1810.2 390.1 1802.6 391.7 1815.2 393.3 1810.1 394.9 1816.5 396.5 1814.4 398.1 1822.2 399.7 1814.8 401.3 1823.1 402.9 1808.2 404.5 1815.6 406.1 1803.9 407.7 1804.1 409.3 1796.6 410.9 1796 412.5 1786.9 414.1 1786.8 415.7 1772.1 417.3 1772.8 418.9 1757.9 420.5 1754.2 422.1 1742.6 423.7 1739 425.3 1720.5 426.9 1724.9 428.5 1705.7 430.1 1708 431.7 1697.1 433.3 1694.4 434.9 1685.2 436.5 1675.2 438.1 1664.2 439.7 1670 441.3 1667.4 442.9 1663.3 444.5 1650 446.1 1651.7 447.7 1646 449.3 1648.9 450.9 1644.8 452.5 1653.9 454.1 1644.2 455.7 1648.4 457.3 1650.5 458.9 1660.4 460.5 1655.2 462.1 1671.1 463.7 1667.7 465.3 1683.1 466.9 1682.4 468.5 1699.3 470.1 1690.8 471.7 1703.8 473.3 1709.4 474.9 1717 476.5 1720.5 478.1 1729.7 479.7 1735.7 481.3 1740.9 482.9 1744.1 484.5 1757.8 486.1 1759.8 487.7 1772.2 489.3 1767.4 490.9 1778.1 492.5 1769.4 494.1 1780.3" fill="none" stroke="#5B9BD5" stroke-width="2.2" stroke-linejoin="miter" stroke-linecap="butt" />
<path d="M100.5 1746.5 102.1 1727.4 103.7 1722.6 105.3 1704 106.9 1704.5 108.5 1688.1 110.1 1699.8 111.7 1677.5 113.3 1688.6 114.9 1670.3 116.5 1694 118.1 1665.8 119.7 1678 121.3 1661.6 122.9 1674.1 124.5 1664.2 126.1 1674.6 127.7 1664.4 129.3 1677.4 130.9 1672 132.5 1679.5 134.1 1682.7 135.7 1686.1 137.3 1687.5 138.9 1704.2 140.5 1692.9 142.1 1713.1 143.7 1709.8 145.3 1727.4 146.9 1729 148.5 1749.2 150.1 1743.1 151.7 1755.7 153.3 1762.2 154.9 1771.8 156.5 1774.2 158.1 1781.1 159.7 1777.4 161.3 1799 162.9 1790.8 164.5 1817.8 166.1 1809.8 167.7 1820.2 169.3 1819.2 170.9 1827.1 172.5 1824.3 174.1 1843.1 175.7 1830.7 177.3 1835 178.9 1826.7 180.5 1839 182.1 1832.6 183.7 1828.9 185.3 1822.7 186.9 1823.9 188.5 1811.1 190.1 1814.1 191.7 1789.1 193.3 1797.9 194.9 1788.7 196.5 1784.4 198.1 1770.3 199.7 1766.1 201.3 1749.4 202.9 1745.6 204.5 1733.9 206.1 1729.9 207.7 1715.4 209.3 1710.4 210.9 1698.6 212.5 1701.3 214.1 1685.3 215.7 1684.5 217.3 1675.2 218.9 1678.9 220.5 1659.8 222.1 1662.5 223.7 1646.7 225.3 1656.6 226.9 1636.8 228.5 1642.2 230.1 1631.7 231.7 1632.7 233.3 1631.9 234.9 1636.2 236.5 1630.8 238.1 1643 239.7 1638.3 241.3 1664.1 242.9 1647.4 244.5 1661.8 246.1 1665.2 247.7 1683.5 249.3 1675.6 250.9 1705.7 252.5 1693.6 254.1 1699.8 255.7 1703.3 257.3 1716.8 258.9 1714.7 260.5 1730.6 262.1 1723.1 263.7 1746.3 265.3 1746.3 266.9 1757.4 268.5 1756.7 270.1 1785.8 271.7 1768.8 273.3 1781.8 274.9 1778.1 276.5 1797 278.1 1797.2 279.7 1805.4 281.3 1796.9 282.9 1810.7 284.5 1794.9 286.1 1815.3 287.7 1787.4 289.3 1801.2 290.9 1798.2 292.5 1809.5 294.1 1797.3 295.7 1802.3 297.3 1789.8 298.9 1790 300.5 1772.6 302.1 1769.7 303.7 1757.5 305.3 1764.9 306.9 1743.6 308.5 1743.4 310.1 1727.9 311.7 1727.7 313.3 1714.7 314.9 1709.3 316.5 1699.5 318.1 1704.4 319.7 1684.5 321.3 1692.5 322.9 1672.7 324.5 1684 326.1 1664.7 327.7 1656.9 329.3 1645.9 330.9 1662.7 332.5 1644.4 334.1 1652.7 335.7 1644.2 337.3 1650.2 338.9 1640.9 340.5 1649.5 342.1 1642.3 343.7 1660.2 345.3 1661.1 346.9 1661.8 348.5 1648.7 350.1 1663.6 351.7 1656.1 353.3 1672.9 354.9 1668.3 356.5 1688.5 358.1 1673.9 359.7 1682.3 361.3 1684.6 362.9 1700.5 364.5 1700.6 366.1 1724.4 367.7 1716.2 369.3 1726.3 370.9 1711.3 372.5 1735.7 374.1 1729.3 375.7 1748 377.3 1737.9 378.9 1753.9 380.5 1744.5 382.1 1762 383.7 1747.1 385.3 1772.9 386.9 1756.3 388.5 1781.4 390.1 1773.7 391.7 1784.9 393.3 1769.8 394.9 1779.2 396.5 1780.1 398.1 1784.2 399.7 1777.7 401.3 1783.5 402.9 1779.1 404.5 1777.4 406.1 1777.5 407.7 1780.2 409.3 1767.4 410.9 1766.7 412.5 1749.6 414.1 1757.7 415.7 1750.3 417.3 1762.1 418.9 1751 420.5 1757.3 422.1 1742.3 423.7 1734.8 425.3 1728.5 426.9 1732.8 428.5 1724.2 430.1 1724.5 431.7 1717.5 433.3 1718.4 434.9 1706.1 436.5 1712.3 438.1 1701.5 439.7 1701.8 441.3 1695.5 442.9 1697.7 444.5 1686.7 446.1 1695.7 447.7 1679 449.3 1684.2 450.9 1685.2 452.5 1696.3 454.1 1685.2 455.7 1695.4 457.3 1689.4 458.9 1691.7 460.5 1693.7 462.1 1708.9 463.7 1696.3 465.3 1714.1 466.9 1706.4 468.5 1724.2 470.1 1723.6 471.7 1736.5 473.3 1726.4 474.9 1733.7 476.5 1729.2 478.1 1737.3 479.7 1728.3 481.3 1745.2 482.9 1738 484.5 1745.4 486.1 1738 487.7 1751 489.3 1741.2 490.9 1752.6 492.5 1747.4 494.1 1754.9" fill="none" stroke="#ED7D31" stroke-width="2.2" stroke-linejoin="miter" stroke-linecap="butt" />
<clipPath id="clip50"><rect x="79.2" y="1600" width="10" height="20"/><rect x="70" y="1614.6" width="10" height="5"/></clipPath>
<text x="87.2" y="1617.8" font-family="'Liberation Serif', 'Noto Serif CJK SC', serif" font-size="14.5" font-weight="normal" font-style="normal" text-anchor="end" fill="#000" clip-path="url(#clip50)">50</text>
<line x1="100.5" y1="1908.9" x2="100.5" y2="2144.5" stroke="#000" stroke-width="2.4" />
<line x1="100.5" y1="2026.7" x2="535.7" y2="2026.7" stroke="#000" stroke-width="2.4" />
<line x1="95.0" y1="1910.1" x2="100.5" y2="1910.1" stroke="#000" stroke-width="2.2" />
<text x="87.2" y="1914.8" font-family="'Liberation Serif', 'Noto Serif CJK SC', serif" font-size="14.5" font-weight="normal" font-style="normal" text-anchor="end" fill="#000" >50</text>
<line x1="95.0" y1="1968.4" x2="100.5" y2="1968.4" stroke="#000" stroke-width="2.2" />
<text x="87.2" y="1973.1" font-family="'Liberation Serif', 'Noto Serif CJK SC', serif" font-size="14.5" font-weight="normal" font-style="normal" text-anchor="end" fill="#000" >25</text>
<line x1="95.0" y1="2026.7" x2="100.5" y2="2026.7" stroke="#000" stroke-width="2.2" />
<text x="87.2" y="2031.4" font-family="'Liberation Serif', 'Noto Serif CJK SC', serif" font-size="14.5" font-weight="normal" font-style="normal" text-anchor="end" fill="#000" >0</text>
<line x1="95.0" y1="2085.0" x2="100.5" y2="2085.0" stroke="#000" stroke-width="2.2" />
<text x="87.2" y="2089.7" font-family="'Liberation Serif', 'Noto Serif CJK SC', serif" font-size="14.5" font-weight="normal" font-style="normal" text-anchor="end" fill="#000" >-25</text>
<line x1="95.0" y1="2143.3" x2="100.5" y2="2143.3" stroke="#000" stroke-width="2.2" />
<text x="87.2" y="2148.0" font-family="'Liberation Serif', 'Noto Serif CJK SC', serif" font-size="14.5" font-weight="normal" font-style="normal" text-anchor="end" fill="#000" >-50</text>
<text x="100.5" y="2050.1" font-family="'Liberation Serif', 'Noto Serif CJK SC', serif" font-size="14.5" font-weight="normal" font-style="normal" text-anchor="middle" fill="#000" >0</text>
<line x1="172.8" y1="2026.7" x2="172.8" y2="2030.7" stroke="#000" stroke-width="2.2" />
<text x="172.8" y="2050.1" font-family="'Liberation Serif', 'Noto Serif CJK SC', serif" font-size="14.5" font-weight="normal" font-style="normal" text-anchor="middle" fill="#000" >1</text>
<line x1="245.2" y1="2026.7" x2="245.2" y2="2030.7" stroke="#000" stroke-width="2.2" />
<text x="245.2" y="2050.1" font-family="'Liberation Serif', 'Noto Serif CJK SC', serif" font-size="14.5" font-weight="normal" font-style="normal" text-anchor="middle" fill="#000" >2</text>
<line x1="317.5" y1="2026.7" x2="317.5" y2="2030.7" stroke="#000" stroke-width="2.2" />
<text x="317.5" y="2050.1" font-family="'Liberation Serif', 'Noto Serif CJK SC', serif" font-size="14.5" font-weight="normal" font-style="normal" text-anchor="middle" fill="#000" >3</text>
<line x1="389.8" y1="2026.7" x2="389.8" y2="2030.7" stroke="#000" stroke-width="2.2" />
<text x="389.8" y="2050.1" font-family="'Liberation Serif', 'Noto Serif CJK SC', serif" font-size="14.5" font-weight="normal" font-style="normal" text-anchor="middle" fill="#000" >4</text>
<line x1="462.2" y1="2026.7" x2="462.2" y2="2030.7" stroke="#000" stroke-width="2.2" />
<text x="462.2" y="2050.1" font-family="'Liberation Serif', 'Noto Serif CJK SC', serif" font-size="14.5" font-weight="normal" font-style="normal" text-anchor="middle" fill="#000" >5</text>
<line x1="534.5" y1="2026.7" x2="534.5" y2="2030.7" stroke="#000" stroke-width="2.2" />
<text x="534.5" y="2050.1" font-family="'Liberation Serif', 'Noto Serif CJK SC', serif" font-size="14.5" font-weight="normal" font-style="normal" text-anchor="middle" fill="#000" >6</text>
<path d="M100.5 2053.3 102.1 2043.6 103.7 2055.2 105.3 2041.9 106.9 2041.4 108.5 2029.8 110.1 2025.9 111.7 2013.4 113.3 2014.5 114.9 2002.7 116.5 1997.4 118.1 1986.6 119.7 1991.1 121.3 1981.7 122.9 1984.9 124.5 1974.7 126.1 1983.2 127.7 1977.8 129.3 1989.8 130.9 1975.4 132.5 1990.1 134.1 1981.5 135.7 2001.9 137.3 2003 138.9 2010.6 140.5 2011.4 142.1 2021.9 143.7 2019.5 145.3 2042.3 146.9 2037.6 148.5 2048.3 150.1 2053.9 151.7 2060.1 153.3 2058.5 154.9 2064.1 156.5 2062.4 158.1 2074.2 159.7 2069.1 161.3 2075.7 162.9 2063.3 164.5 2071.1 166.1 2068.7 167.7 2077 169.3 2063.8 170.9 2062.1 172.5 2051.9 174.1 2050.2 175.7 2040.6 177.3 2042.6 178.9 2025.5 180.5 2034.7 182.1 2019.5 183.7 2024 185.3 2010.9 186.9 2010.2 188.5 1999.7 190.1 2008.9 191.7 1993.6 193.3 1995.3 194.9 1990.3 196.5 1989.8 198.1 1981.7 199.7 1987.7 201.3 1981.2 202.9 1986.7 204.5 1985.8 206.1 1996.9 207.7 1990.5 209.3 2005.1 210.9 2004.4 212.5 2015.5 214.1 2016 215.7 2025.8 217.3 2024.6 218.9 2037 220.5 2032.2 222.1 2045.2 223.7 2041.8 225.3 2050.1 226.9 2049.6 228.5 2064.1 230.1 2056 231.7 2068.6 233.3 2058.9 234.9 2069.9 236.5 2061.7 238.1 2068.2 239.7 2063.5 241.3 2072.8 242.9 2059.4 244.5 2067.3 246.1 2041.7 247.7 2041.5 249.3 2025.7 250.9 2029.3 252.5 2023.3 254.1 2029.4 255.7 2010.5 257.3 2004 258.9 1994.3 260.5 1993.8 262.1 1981.6 263.7 1983.8 265.3 1976.7 266.9 1983.5 268.5 1977 270.1 1984.8 271.7 1982.5 273.3 1991.3 274.9 1979.5 276.5 1996.3 278.1 1992.8 279.7 2006 281.3 2002.5 282.9 2012.3 284.5 2013.3 286.1 2028 287.7 2020.7 289.3 2031.3 290.9 2039 292.5 2048.3 294.1 2049.2 295.7 2057.6 297.3 2054.4 298.9 2073.1 300.5 2057.6 302.1 2065.4 303.7 2064.3 305.3 2066.7 306.9 2062.9 308.5 2062 310.1 2055.6 311.7 2058 313.3 2049.8 314.9 2051.8 316.5 2036.2 318.1 2039.5 319.7 2031.5 321.3 2036.1 322.9 2025.9 324.5 2026 326.1 2020.2 327.7 2023.1 329.3 2009.5 330.9 2007.2 332.5 1997.2 334.1 2006.7 335.7 1994.7 337.3 1998.9 338.9 1991.1 340.5 1999.1 342.1 1986.4 343.7 1997.7 345.3 1989.2 346.9 1998.9 348.5 1998.2 350.1 2001.1 351.7 2003.4 353.3 2012.1 354.9 2001.3 356.5 2015.6 358.1 2011.5 359.7 2020.3 361.3 2013 362.9 2027.9 364.5 2030 366.1 2039.6 367.7 2037.9 369.3 2038.3 370.9 2036 372.5 2042.9 374.1 2042.2 375.7 2048.8 377.3 2049.8 378.9 2053.3 380.5 2049.9 382.1 2056.3 383.7 2049 385.3 2045.5 386.9 2041.2 388.5 2038.6 390.1 2030.8 391.7 2041 393.3 2028.2 394.9 2030.2 396.5 2020.5 398.1 2023 399.7 2017.5 401.3 2018.4 402.9 2000.5 404.5 2010.7 406.1 2000.5 407.7 2006.9 409.3 2000.7 410.9 2005.6 412.5 2006.5 414.1 2010.8 415.7 1994.8 417.3 2009.7 418.9 2008.1 420.5 2007.9 422.1 2011 423.7 2015.3 425.3 2007.3 426.9 2017.9 428.5 2014.5 430.1 2021.3 431.7 2020.5 433.3 2024.7 434.9 2026.3 436.5 2031.6 438.1 2033.7 439.7 2041.4 441.3 2039.9 442.9 2050 444.5 2042.7 446.1 2053.1 447.7 2045.8 449.3 2052.1 450.9 2046.9 452.5 2053.9 454.1 2047.5 455.7 2048.2 457.3 2041.5 458.9 2046.8 460.5 2043.6 462.1 2050.1 463.7 2043.4 465.3 2043.5 466.9 2038.3 468.5 2035.5 470.1 2025.7 471.7 2032.1 473.3 2020.6 474.9 2025.4 476.5 2014 478.1 2019 479.7 2009.1 481.3 2013.3 482.9 2006.4 484.5 2011.5 486.1 1994.4 487.7 2010.7 489.3 2008.6 490.9 2016.8 492.5 2009.7 494.1 2022.1 495.7 2013.6 497.3 2022.2 498.9 2016 500.5 2025.3 502.1 2017.7 503.7 2033.9 505.3 2024.4 506.9 2040.6 508.5 2036.2 510.1 2041.2 511.7 2032.1 513.3 2045.1 514.9 2041.5" fill="none" stroke="#5B9BD5" stroke-width="2.2" stroke-linejoin="miter" stroke-linecap="butt" />
<path d="M100.5 2062.6 102.1 2043.3 103.7 2034.4 105.3 2023.5 106.9 2022.5 108.5 2017 110.1 2012.3 111.7 1996 113.3 2004.7 114.9 1990.1 116.5 1981.2 118.1 1977 119.7 1979.6 121.3 1970.2 122.9 1978.8 124.5 1972.4 126.1 1993.4 127.7 1982.7 129.3 1997.1 130.9 1991.7 132.5 2003.6 134.1 1999.3 135.7 2017.2 137.3 2017.5 138.9 2031.5 140.5 2033.6 142.1 2058.2 143.7 2053.7 145.3 2076.3 146.9 2067.1 148.5 2082.3 150.1 2078.4 151.7 2087.8 153.3 2073.5 154.9 2088.6 156.5 2083.6 158.1 2090.3 159.7 2075.4 161.3 2086.3 162.9 2066.8 164.5 2069.2 166.1 2061.6 167.7 2064.5 169.3 2045.2 170.9 2049.6 172.5 2032 174.1 2045.1 175.7 2022.4 177.3 2013.2 178.9 2013.2 180.5 2020.2 182.1 1999.1 183.7 2005.5 185.3 1987 186.9 2000.5 188.5 1980.9 190.1 1983.8 191.7 1978.1 193.3 1988.5 194.9 1982.1 196.5 1979 198.1 1977.1 199.7 1993.8 201.3 1988.2 202.9 1998.2 204.5 2001.3 206.1 2020.3 207.7 2010.8 209.3 2026.1 210.9 2023.2 212.5 2039.2 214.1 2028.6 215.7 2042.8 217.3 2043.1 218.9 2057 220.5 2045.7 222.1 2062.1 223.7 2058.1 225.3 2060.2 226.9 2055.2 228.5 2069.2 230.1 2047.5 231.7 2052.3 233.3 2044.1 234.9 2048.4 236.5 2039.9 238.1 2045.1 239.7 2033.5 241.3 2045.1 242.9 2030.4 244.5 2047.4 246.1 2029.9 247.7 2038.9 249.3 2020.6 250.9 2032.8 252.5 2014.7 254.1 2016.7 255.7 2015.1 257.3 2010 258.9 1994.5 260.5 2002 262.1 1988.3 263.7 1993.6 265.3 1989.8 266.9 1992.1 268.5 1990.2 270.1 1994 271.7 1980 273.3 2006.5 274.9 2000.2 276.5 2009 278.1 2007.7 279.7 2023.5 281.3 2015.9 282.9 2031 284.5 2020.4 286.1 2043.5 287.7 2038 289.3 2043.2 290.9 2029.9 292.5 2039.2 294.1 2041.3 295.7 2055.1 297.3 2035.8 298.9 2049.5 300.5 2035.2 302.1 2047.7 303.7 2044.5 305.3 2050.4 306.9 2043.3 308.5 2047 310.1 2040.6 311.7 2047.1 313.3 2042.3 314.9 2044.6 316.5 2038.6 318.1 2038.6 319.7 2026.1 321.3 2028.7 322.9 2020.8 324.5 2027.9 326.1 2015.6 327.7 2018.6 329.3 2008 330.9 2011.7 332.5 2003 334.1 2005.2 335.7 2003.4 337.3 2018 338.9 1993.8 340.5 2002 342.1 1995 343.7 2006.7 345.3 2004.5 346.9 2017.4 348.5 2008.7 350.1 2017.3 351.7 2008.8 353.3 2031 354.9 2021.2 356.5 2027.7 358.1 2023 359.7 2035.4 361.3 2037.3 362.9 2047.1 364.5 2035 366.1 2055.1 367.7 2046.5 369.3 2054.6 370.9 2044.5 372.5 2051.9 374.1 2048.9 375.7 2050.3 377.3 2050.2 378.9 2062.4 380.5 2034.7 382.1 2053.1 383.7 2040.3 385.3 2045.3 386.9 2025.8 388.5 2031 390.1 2015.2 391.7 2035.6 393.3 2020.4 394.9 2016.5 396.5 2007.3 398.1 2022.1 399.7 2000.5 401.3 2006.2 402.9 1998.9 404.5 2009.7 406.1 2002.2 407.7 2012.1 409.3 1996.4 410.9 2004.7 412.5 2007.7 414.1 2005.9 415.7 2008.5 417.3 2018.7 418.9 2017 420.5 2029.2 422.1 2020.7 423.7 2032.4 425.3 2025.7 426.9 2038.6 428.5 2028.2 430.1 2044.7 431.7 2038 433.3 2043.6 434.9 2028.3 436.5 2047.9 438.1 2039.6 439.7 2036.4 441.3 2034.8 442.9 2037.9 444.5 2033.2 446.1 2043.3 447.7 2024.9 449.3 2048.9 450.9 2037.8 452.5 2037.6 454.1 2013.8 455.7 2032 457.3 2021 458.9 2021.4 460.5 2015.2 462.1 2026.6 463.7 2019.9 465.3 2030.8 466.9 2013.1 468.5 2027.1 470.1 2012.9 471.7 2026.2 473.3 2018.5 474.9 2023.8 476.5 2002.4 478.1 2016.1 479.7 2003.3 481.3 2012.9 482.9 2012.7 484.5 2016.1 486.1 2018.5 487.7 2019.1 489.3 2012.8 490.9 2020.4 492.5 2017.2 494.1 2018.1 495.7 2015.4 497.3 2029.9 498.9 2027 500.5 2029.9 502.1 2020.3 503.7 2031 505.3 2020.4 506.9 2039.4 508.5 2018.9 510.1 2037.9 511.7 2029.4 513.3 2042.6 514.9 2023.9" fill="none" stroke="#ED7D31" stroke-width="2.2" stroke-linejoin="miter" stroke-linecap="butt" />
<text x="541.0" y="1741.5" font-family="'Liberation Serif', 'Noto Serif CJK SC', serif" font-size="18.5" font-weight="normal" font-style="normal" text-anchor="start" fill="#000" >day</text>
<text x="541.0" y="2040.8" font-family="'Liberation Serif', 'Noto Serif CJK SC', serif" font-size="18.5" font-weight="normal" font-style="normal" text-anchor="start" fill="#000" >day</text>
<text x="0.0" y="0.0" font-family="'Liberation Serif', 'Noto Serif CJK SC', serif" font-size="42" font-weight="bold" font-style="normal" text-anchor="middle" fill="#000" transform="translate(47.3 1734.0) rotate(-90)" >counts/sec</text>
<text x="0.0" y="0.0" font-family="'Liberation Serif', 'Noto Serif CJK SC', serif" font-size="42" font-weight="bold" font-style="normal" text-anchor="middle" fill="#000" transform="translate(47.8 2029.5) rotate(-90)" >counts/sec</text>
<line x1="176.0" y1="1857.2" x2="202.7" y2="1857.2" stroke="#5B9BD5" stroke-width="1.9" />
<text x="205.7" y="1862.0" font-family="'Liberation Serif', 'Noto Serif CJK SC', serif" font-size="15.5" font-weight="normal" font-style="normal" text-anchor="start" fill="#000" >EMPA PRE</text>
<line x1="286.5" y1="1857.2" x2="313.1" y2="1857.2" stroke="#ED7D31" stroke-width="1.9" />
<text x="315.6" y="1862.0" font-family="'Liberation Serif', 'Noto Serif CJK SC', serif" font-size="15.5" font-weight="normal" font-style="normal" text-anchor="start" fill="#000" >EMPA + OR-A PRE</text>
<line x1="157.8" y1="2131.2" x2="184.4" y2="2131.2" stroke="#5B9BD5" stroke-width="1.9" />
<text x="187.1" y="2136.8" font-family="'Liberation Serif', 'Noto Serif CJK SC', serif" font-size="15.5" font-weight="normal" font-style="normal" text-anchor="start" fill="#000" >EMPA POST</text>
<line x1="288.4" y1="2131.2" x2="315.1" y2="2131.2" stroke="#ED7D31" stroke-width="1.9" />
<text x="317.2" y="2136.8" font-family="'Liberation Serif', 'Noto Serif CJK SC', serif" font-size="15.5" font-weight="normal" font-style="normal" text-anchor="start" fill="#000" >EMPA +100μM OR-A POST</text>
</g>
<g id="panel_g">
<text x="639.1" y="1568.5" font-family="'Liberation Serif', 'Noto Serif CJK SC', serif" font-size="34.5" font-weight="normal" font-style="normal" text-anchor="start" fill="#000" >G</text>
<line x1="755.4" y1="1708.9" x2="755.4" y2="2083.1" stroke="#000" stroke-width="4.0" />
<line x1="749.9" y1="2081.2" x2="891.0" y2="2081.2" stroke="#000" stroke-width="3.8" />
<line x1="749.9" y1="2081.2" x2="755.4" y2="2081.2" stroke="#000" stroke-width="3.2" />
<text x="738.3" y="2088.5" font-family="'Liberation Serif', 'Noto Serif CJK SC', serif" font-size="20" font-weight="normal" font-style="normal" text-anchor="end" fill="#000" >0</text>
<line x1="749.9" y1="2044.1" x2="755.4" y2="2044.1" stroke="#000" stroke-width="3.2" />
<text x="738.3" y="2051.4" font-family="'Liberation Serif', 'Noto Serif CJK SC', serif" font-size="20" font-weight="normal" font-style="normal" text-anchor="end" fill="#000" >0.0005</text>
<line x1="749.9" y1="2007.1" x2="755.4" y2="2007.1" stroke="#000" stroke-width="3.2" />
<text x="738.3" y="2014.4" font-family="'Liberation Serif', 'Noto Serif CJK SC', serif" font-size="20" font-weight="normal" font-style="normal" text-anchor="end" fill="#000" >0.001</text>
<line x1="749.9" y1="1970.0" x2="755.4" y2="1970.0" stroke="#000" stroke-width="3.2" />
<text x="738.3" y="1977.3" font-family="'Liberation Serif', 'Noto Serif CJK SC', serif" font-size="20" font-weight="normal" font-style="normal" text-anchor="end" fill="#000" >0.0015</text>
<line x1="749.9" y1="1933.0" x2="755.4" y2="1933.0" stroke="#000" stroke-width="3.2" />
<text x="738.3" y="1940.3" font-family="'Liberation Serif', 'Noto Serif CJK SC', serif" font-size="20" font-weight="normal" font-style="normal" text-anchor="end" fill="#000" >0.002</text>
<line x1="749.9" y1="1895.9" x2="755.4" y2="1895.9" stroke="#000" stroke-width="3.2" />
<text x="738.3" y="1903.2" font-family="'Liberation Serif', 'Noto Serif CJK SC', serif" font-size="20" font-weight="normal" font-style="normal" text-anchor="end" fill="#000" >0.0025</text>
<line x1="749.9" y1="1858.8" x2="755.4" y2="1858.8" stroke="#000" stroke-width="3.2" />
<text x="738.3" y="1866.1" font-family="'Liberation Serif', 'Noto Serif CJK SC', serif" font-size="20" font-weight="normal" font-style="normal" text-anchor="end" fill="#000" >0.003</text>
<line x1="749.9" y1="1821.8" x2="755.4" y2="1821.8" stroke="#000" stroke-width="3.2" />
<text x="738.3" y="1829.1" font-family="'Liberation Serif', 'Noto Serif CJK SC', serif" font-size="20" font-weight="normal" font-style="normal" text-anchor="end" fill="#000" >0.0035</text>
<line x1="749.9" y1="1784.7" x2="755.4" y2="1784.7" stroke="#000" stroke-width="3.2" />
<text x="738.3" y="1792.0" font-family="'Liberation Serif', 'Noto Serif CJK SC', serif" font-size="20" font-weight="normal" font-style="normal" text-anchor="end" fill="#000" >0.004</text>
<line x1="749.9" y1="1747.7" x2="755.4" y2="1747.7" stroke="#000" stroke-width="3.2" />
<text x="738.3" y="1755.0" font-family="'Liberation Serif', 'Noto Serif CJK SC', serif" font-size="20" font-weight="normal" font-style="normal" text-anchor="end" fill="#000" >0.0045</text>
<line x1="749.9" y1="1710.6" x2="755.4" y2="1710.6" stroke="#000" stroke-width="3.2" />
<text x="738.3" y="1717.9" font-family="'Liberation Serif', 'Noto Serif CJK SC', serif" font-size="20" font-weight="normal" font-style="normal" text-anchor="end" fill="#000" >0.005</text>
<line x1="755.4" y1="2081.2" x2="755.4" y2="2086.7" stroke="#000" stroke-width="3.4" />
<line x1="822.7" y1="2081.2" x2="822.7" y2="2086.7" stroke="#000" stroke-width="3.4" />
<line x1="889.2" y1="2081.2" x2="889.2" y2="2086.7" stroke="#000" stroke-width="3.4" />
<text x="0.0" y="0.0" font-family="'Liberation Serif', 'Noto Serif CJK SC', serif" font-size="29.3" font-weight="bold" font-style="normal" text-anchor="middle" fill="#000" transform="translate(670.6 1880.5) rotate(-90)" >Relative Gene Expression</text>
<rect x="779.0" y="1946.7" width="21.0" height="134.5" fill="#000" stroke="none" stroke-width="0" />
<rect x="845.0" y="1761.8" width="23.0" height="319.4" fill="#f00" stroke="none" stroke-width="0" />
<line x1="789.5" y1="1926.3" x2="789.5" y2="1947.0" stroke="#000" stroke-width="1.4" />
<line x1="784.5" y1="1926.3" x2="794.5" y2="1926.3" stroke="#000" stroke-width="1.4" />
<line x1="856.5" y1="1738.9" x2="856.5" y2="1784.9" stroke="#000" stroke-width="1.4" /><line x1="851.5" y1="1738.9" x2="861.5" y2="1738.9" stroke="#000" stroke-width="1.4" /><line x1="851.5" y1="1784.9" x2="861.5" y2="1784.9" stroke="#000" stroke-width="1.4" />
<line x1="784.9" y1="1730.8" x2="859.0" y2="1730.8" stroke="#000" stroke-width="2.4" />
<text x="819.7" y="1735.5" font-family="'Liberation Serif', 'Noto Serif CJK SC', serif" font-size="26" font-weight="normal" font-style="normal" text-anchor="middle" fill="#000" >*</text>
<text x="0.0" y="0.0" font-family="'Liberation Serif', 'Noto Serif CJK SC', serif" font-size="28" font-weight="normal" font-style="italic" text-anchor="end" fill="#000" transform="translate(796.5 2110.5) rotate(-45)" >Hcrtr1</text>
<text x="0.0" y="0.0" font-family="'Liberation Serif', 'Noto Serif CJK SC', serif" font-size="28" font-weight="normal" font-style="italic" text-anchor="end" fill="#000" transform="translate(871.5 2112.5) rotate(-45)" >Hcrtr2</text>
</g>
<g id="panel_h">
<text x="1098.1" y="1568.9" font-family="'Liberation Serif', 'Noto Serif CJK SC', serif" font-size="34.5" font-weight="normal" font-style="normal" text-anchor="start" fill="#000" >H</text>
<line x1="1181.4" y1="1733.6" x2="1181.4" y2="1997.7" stroke="#000" stroke-width="3.9" />
<line x1="1175.4" y1="1995.8" x2="1517.0" y2="1995.8" stroke="#000" stroke-width="4.4" />
<line x1="1175.4" y1="1995.5" x2="1181.4" y2="1995.5" stroke="#000" stroke-width="3.4" />
<text x="1162.4" y="2002.5" font-family="'Liberation Serif', 'Noto Serif CJK SC', serif" font-size="20" font-weight="normal" font-style="normal" text-anchor="end" fill="#000" >21</text>
<line x1="1175.4" y1="1943.5" x2="1181.4" y2="1943.5" stroke="#000" stroke-width="3.4" />
<text x="1162.4" y="1950.5" font-family="'Liberation Serif', 'Noto Serif CJK SC', serif" font-size="20" font-weight="normal" font-style="normal" text-anchor="end" fill="#000" >22</text>
<line x1="1175.4" y1="1891.5" x2="1181.4" y2="1891.5" stroke="#000" stroke-width="3.4" />
<text x="1162.4" y="1898.5" font-family="'Liberation Serif', 'Noto Serif CJK SC', serif" font-size="20" font-weight="normal" font-style="normal" text-anchor="end" fill="#000" >23</text>
<line x1="1175.4" y1="1839.4" x2="1181.4" y2="1839.4" stroke="#000" stroke-width="3.4" />
<text x="1162.4" y="1846.4" font-family="'Liberation Serif', 'Noto Serif CJK SC', serif" font-size="20" font-weight="normal" font-style="normal" text-anchor="end" fill="#000" >24</text>
<line x1="1175.4" y1="1787.4" x2="1181.4" y2="1787.4" stroke="#000" stroke-width="3.4" />
<text x="1162.4" y="1794.4" font-family="'Liberation Serif', 'Noto Serif CJK SC', serif" font-size="20" font-weight="normal" font-style="normal" text-anchor="end" fill="#000" >25</text>
<line x1="1175.4" y1="1735.4" x2="1181.4" y2="1735.4" stroke="#000" stroke-width="3.4" />
<text x="1162.4" y="1742.4" font-family="'Liberation Serif', 'Noto Serif CJK SC', serif" font-size="20" font-weight="normal" font-style="normal" text-anchor="end" fill="#000" >26</text>
<line x1="1181.4" y1="1995.5" x2="1181.4" y2="2001.1" stroke="#000" stroke-width="3.8" />
<line x1="1264.7" y1="1995.5" x2="1264.7" y2="2001.1" stroke="#000" stroke-width="3.8" />
<line x1="1348.7" y1="1995.5" x2="1348.7" y2="2001.1" stroke="#000" stroke-width="3.8" />
<line x1="1431.9" y1="1995.5" x2="1431.9" y2="2001.1" stroke="#000" stroke-width="3.8" />
<line x1="1515.1" y1="1995.5" x2="1515.1" y2="2001.1" stroke="#000" stroke-width="3.8" />
<text x="0.0" y="0.0" font-family="'Liberation Serif', 'Noto Serif CJK SC', serif" font-size="31" font-weight="bold" font-style="normal" text-anchor="middle" fill="#000" transform="translate(1109.6 1862.5) rotate(-90)" >Periods length (Hour)</text>
<rect x="1201.5" y="1821.2" width="19.4" height="172.8" fill="#5B9BD5" stroke="none" stroke-width="0" />
<rect x="1225.3" y="1822.3" width="18.6" height="171.7" fill="#ED7D31" stroke="none" stroke-width="0" />
<rect x="1284.8" y="1802.2" width="18.2" height="191.8" fill="#5B9BD5" stroke="none" stroke-width="0" />
<rect x="1309.2" y="1813.2" width="18.3" height="180.8" fill="#ED7D31" stroke="none" stroke-width="0" />
<rect x="1368.0" y="1801.1" width="19.0" height="192.9" fill="#5B9BD5" stroke="none" stroke-width="0" />
<rect x="1392.5" y="1815.7" width="19.0" height="178.3" fill="#ED7D31" stroke="none" stroke-width="0" />
<rect x="1451.6" y="1807.7" width="18.6" height="186.3" fill="#5B9BD5" stroke="none" stroke-width="0" />
<rect x="1475.7" y="1804.8" width="19.0" height="189.2" fill="#ED7D31" stroke="none" stroke-width="0" />
<line x1="1210.8" y1="1815.5" x2="1210.8" y2="1827.4" stroke="#444" stroke-width="2.1" /><line x1="1205.5" y1="1815.5" x2="1216.1" y2="1815.5" stroke="#444" stroke-width="2.1" /><line x1="1205.5" y1="1827.4" x2="1216.1" y2="1827.4" stroke="#444" stroke-width="2.1" />
<line x1="1234.9" y1="1819.0" x2="1234.9" y2="1826.4" stroke="#444" stroke-width="2.1" /><line x1="1229.6" y1="1819.0" x2="1240.2" y2="1819.0" stroke="#444" stroke-width="2.1" /><line x1="1229.6" y1="1826.4" x2="1240.2" y2="1826.4" stroke="#444" stroke-width="2.1" />
<line x1="1294.5" y1="1788.1" x2="1294.5" y2="1817.4" stroke="#444" stroke-width="2.1" /><line x1="1289.2" y1="1788.1" x2="1299.8" y2="1788.1" stroke="#444" stroke-width="2.1" /><line x1="1289.2" y1="1817.4" x2="1299.8" y2="1817.4" stroke="#444" stroke-width="2.1" />
<line x1="1318.4" y1="1797.7" x2="1318.4" y2="1828.7" stroke="#444" stroke-width="2.1" /><line x1="1313.1" y1="1797.7" x2="1323.8" y2="1797.7" stroke="#444" stroke-width="2.1" /><line x1="1313.1" y1="1828.7" x2="1323.8" y2="1828.7" stroke="#444" stroke-width="2.1" />
<line x1="1377.5" y1="1784.0" x2="1377.5" y2="1817.6" stroke="#444" stroke-width="2.1" /><line x1="1372.2" y1="1784.0" x2="1382.8" y2="1784.0" stroke="#444" stroke-width="2.1" /><line x1="1372.2" y1="1817.6" x2="1382.8" y2="1817.6" stroke="#444" stroke-width="2.1" />
<line x1="1401.6" y1="1808.4" x2="1401.6" y2="1821.9" stroke="#444" stroke-width="2.1" /><line x1="1396.2" y1="1808.4" x2="1406.9" y2="1808.4" stroke="#444" stroke-width="2.1" /><line x1="1396.2" y1="1821.9" x2="1406.9" y2="1821.9" stroke="#444" stroke-width="2.1" />
<line x1="1461.1" y1="1797.5" x2="1461.1" y2="1817.6" stroke="#444" stroke-width="2.1" /><line x1="1455.8" y1="1797.5" x2="1466.4" y2="1797.5" stroke="#444" stroke-width="2.1" /><line x1="1455.8" y1="1817.6" x2="1466.4" y2="1817.6" stroke="#444" stroke-width="2.1" />
<line x1="1484.9" y1="1793.8" x2="1484.9" y2="1815.0" stroke="#444" stroke-width="2.1" /><line x1="1479.6" y1="1793.8" x2="1490.2" y2="1793.8" stroke="#444" stroke-width="2.1" /><line x1="1479.6" y1="1815.0" x2="1490.2" y2="1815.0" stroke="#444" stroke-width="2.1" />
<text x="1103.2" y="2051.2" font-family="'Liberation Serif', 'Noto Serif CJK SC', serif" font-size="22" font-weight="bold" font-style="normal" text-anchor="middle" fill="#000" >DMSO</text>
<text x="1104.0" y="2091.4" font-family="'Liberation Serif', 'Noto Serif CJK SC', serif" font-size="22.5" font-weight="bold" font-style="normal" text-anchor="middle" fill="#000" >EMPA</text>
<text x="1103.2" y="2139.8" font-family="'Liberation Serif', 'Noto Serif CJK SC', serif" font-size="29.8" font-weight="normal" font-style="normal" text-anchor="middle" fill="#000" >Orexin A</text>
<line x1="1215.6" y1="2038.0" x2="1234.4" y2="2038.0" stroke="#222" stroke-width="1.2" />
<line x1="1225.0" y1="2028.6" x2="1225.0" y2="2047.4" stroke="#222" stroke-width="1.2" />
<line x1="1299.9" y1="2035.7" x2="1309.9" y2="2035.7" stroke="#222" stroke-width="2" />
<line x1="1389.3" y1="2036.0" x2="1399.3" y2="2036.0" stroke="#222" stroke-width="2" />
<line x1="1476.2" y1="2031.3" x2="1486.2" y2="2031.3" stroke="#222" stroke-width="2" />
<line x1="1219.0" y1="2129.3" x2="1230.0" y2="2129.3" stroke="#111" stroke-width="2.8" />
<text x="1225.5" y="2092.6" font-family="'Liberation Serif', 'Noto Serif CJK SC', serif" font-size="31" font-weight="normal" font-style="normal" text-anchor="middle" fill="#111" >10</text>
<text x="1305.8" y="2087.1" font-family="'Liberation Serif', 'Noto Serif CJK SC', serif" font-size="31" font-weight="normal" font-style="normal" text-anchor="middle" fill="#111" >10</text>
<text x="1396.0" y="2089.0" font-family="'Liberation Serif', 'Noto Serif CJK SC', serif" font-size="31" font-weight="normal" font-style="normal" text-anchor="middle" fill="#111" >10</text>
<text x="1481.5" y="2084.2" font-family="'Liberation Serif', 'Noto Serif CJK SC', serif" font-size="31" font-weight="normal" font-style="normal" text-anchor="middle" fill="#111" >10</text>
<text x="1305.8" y="2132.8" font-family="'Liberation Serif', 'Noto Serif CJK SC', serif" font-size="31" font-weight="normal" font-style="normal" text-anchor="middle" fill="#111" >10</text>
<text x="1395.6" y="2133.5" font-family="'Liberation Serif', 'Noto Serif CJK SC', serif" font-size="31" font-weight="normal" font-style="normal" text-anchor="middle" fill="#111" >50</text>
<text x="1481.5" y="2129.1" font-family="'Liberation Serif', 'Noto Serif CJK SC', serif" font-size="31" font-weight="normal" font-style="normal" text-anchor="middle" fill="#111" >100</text>
<text x="1528.0" y="2086.0" font-family="'Liberation Serif', 'Noto Serif CJK SC', serif" font-size="24" font-weight="normal" font-style="normal" text-anchor="start" fill="#444" >μ</text>
<text x="1549.0" y="2086.0" font-family="'Liberation Serif', 'Noto Serif CJK SC', serif" font-size="29" font-weight="normal" font-style="normal" text-anchor="start" fill="#555" textLength="20" lengthAdjust="spacingAndGlyphs">M</text>
<text x="1528.0" y="2131.7" font-family="'Liberation Serif', 'Noto Serif CJK SC', serif" font-size="29" font-weight="normal" font-style="normal" text-anchor="start" fill="#111" >n</text>
<text x="1549.0" y="2131.7" font-family="'Liberation Serif', 'Noto Serif CJK SC', serif" font-size="29" font-weight="normal" font-style="normal" text-anchor="start" fill="#555" textLength="20" lengthAdjust="spacingAndGlyphs">M</text>
<rect x="1273.1" y="2168.2" width="9.2" height="9.2" fill="#5B9BD5" stroke="none" stroke-width="0" />
<text x="1286.6" y="2179.3" font-family="'Liberation Serif', 'Noto Serif CJK SC', serif" font-size="20" font-weight="normal" font-style="normal" text-anchor="start" fill="#000" >PRE</text>
<rect x="1340.3" y="2168.2" width="9.2" height="9.2" fill="#ED7D31" stroke="none" stroke-width="0" />
<text x="1353.4" y="2179.3" font-family="'Liberation Serif', 'Noto Serif CJK SC', serif" font-size="20" font-weight="normal" font-style="normal" text-anchor="start" fill="#000" >POST</text>
</g>
</svg>
</body>
</html>
